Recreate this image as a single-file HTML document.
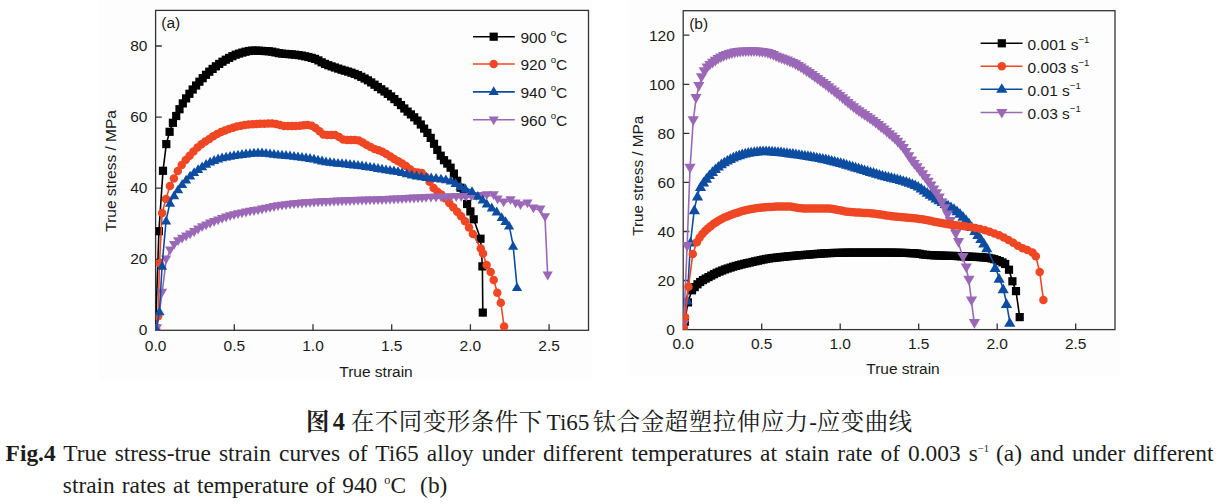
<!DOCTYPE html>
<html><head><meta charset="utf-8"><title>Fig.4</title>
<style>
html,body{margin:0;padding:0;background:#fff;}
body{width:1221px;height:504px;position:relative;overflow:hidden;}
.cap{position:absolute;white-space:nowrap;font-family:"Liberation Serif",serif;font-size:23.4px;line-height:1;color:#1c1c1c;}
.cap sup{font-size:0.45em;vertical-align:baseline;position:relative;top:-0.86em;margin:0 -1.2px 0 0;line-height:0;}
</style></head><body>
<svg width="1221" height="504" viewBox="0 0 1221 504" style="position:absolute;left:0;top:0">
<rect x="99" y="0" width="493" height="380" fill="#fdfdfd"/><rect x="628" y="0" width="492" height="376" fill="#fdfdfd"/>
<g font-family="'Liberation Sans', sans-serif" fill="#1a1a1a">
<rect x="155.6" y="10.4" width="432.9" height="319.9" fill="none" stroke="#333333" stroke-width="1.3"/>
<path d="M234.3 330.4v-6.2M313.0 330.4v-6.2M391.7 330.4v-6.2M470.4 330.4v-6.2M549.1 330.4v-6.2M155.6 259.3h6.2M155.6 188.2h6.2M155.6 117.1h6.2M155.6 46.0h6.2" stroke="#333333" stroke-width="1.3" fill="none"/>
<text x="155.6" y="351.1" font-size="15.5" text-anchor="middle">0.0</text>
<text x="234.3" y="351.1" font-size="15.5" text-anchor="middle">0.5</text>
<text x="313.0" y="351.1" font-size="15.5" text-anchor="middle">1.0</text>
<text x="391.7" y="351.1" font-size="15.5" text-anchor="middle">1.5</text>
<text x="470.4" y="351.1" font-size="15.5" text-anchor="middle">2.0</text>
<text x="549.1" y="351.1" font-size="15.5" text-anchor="middle">2.5</text>
<text x="147.4" y="335.2" font-size="15.5" text-anchor="end">0</text>
<text x="147.4" y="264.1" font-size="15.5" text-anchor="end">20</text>
<text x="147.4" y="193.0" font-size="15.5" text-anchor="end">40</text>
<text x="147.4" y="121.9" font-size="15.5" text-anchor="end">60</text>
<text x="147.4" y="50.8" font-size="15.5" text-anchor="end">80</text>
<text x="376" y="376.7" font-size="15.5" text-anchor="middle">True strain</text>
<text transform="translate(116.1 170.9) rotate(-90)" font-size="15.5" text-anchor="middle">True stress / MPa</text>
<text x="161.3" y="27.6" font-size="15.5">(a)</text>
<clipPath id="ca"><rect x="155.6" y="10.7" width="432.9" height="319.9"/></clipPath><g clip-path="url(#ca)">
<path d="M155.6 328.6L158.9 231.2L163.0 170.8L166.3 144.1L169.6 131.8L172.9 122.8L176.2 116.0L179.5 109.2L182.8 103.4L186.1 98.4L189.4 93.8L192.7 89.5L196.1 85.5L199.4 81.7L202.7 78.2L206.0 74.8L209.3 71.7L212.6 68.9L215.9 66.3L219.2 63.9L222.5 61.7L225.8 59.7L229.1 57.9L232.4 56.2L235.7 54.7L239.0 53.6L242.3 52.6L245.6 51.7L248.9 51.0L252.2 50.6L255.5 50.6L258.9 50.7L262.2 50.9L265.5 51.1L268.8 51.3L272.1 51.7L275.4 52.4L278.7 53.1L282.0 53.6L285.3 53.9L288.6 54.1L291.9 54.4L295.2 54.7L298.5 55.1L301.8 55.6L305.1 56.3L308.4 57.0L311.7 57.9L315.0 58.9L318.4 60.4L321.7 62.3L325.0 63.9L328.3 65.2L331.6 66.4L334.9 67.5L338.2 68.6L341.5 69.7L344.8 70.7L348.1 71.6L351.4 72.7L354.7 73.9L358.0 75.2L361.3 76.8L364.6 78.5L367.9 80.3L371.2 82.4L374.5 84.7L377.8 87.0L381.2 89.3L384.5 91.5L387.8 93.9L391.1 96.4L394.4 99.1L397.7 102.0L401.0 105.1L404.3 108.5L407.6 111.6L410.9 114.4L414.2 117.3L417.5 120.6L420.8 124.5L424.1 128.6L427.4 132.9L430.7 137.9L434.0 143.8L437.3 149.9L440.7 155.7L444.0 160.2L447.3 163.6L450.6 167.7L453.9 173.6L457.2 180.8L460.5 187.7L463.8 194.1L467.1 204.0L470.4 211.4L473.7 219.3L480.5 238.7L482.4 266.4L482.8 312.6" fill="none" stroke="#000000" stroke-width="1.6" stroke-linejoin="round"/>
<rect x="151.5" y="324.5" width="8.2" height="8.2" fill="#000000"/>
<rect x="154.8" y="227.1" width="8.2" height="8.2" fill="#000000"/>
<rect x="158.9" y="166.7" width="8.2" height="8.2" fill="#000000"/>
<rect x="162.2" y="140.0" width="8.2" height="8.2" fill="#000000"/>
<rect x="165.5" y="127.7" width="8.2" height="8.2" fill="#000000"/>
<rect x="168.8" y="118.7" width="8.2" height="8.2" fill="#000000"/>
<rect x="172.1" y="111.9" width="8.2" height="8.2" fill="#000000"/>
<rect x="175.4" y="105.1" width="8.2" height="8.2" fill="#000000"/>
<rect x="178.7" y="99.3" width="8.2" height="8.2" fill="#000000"/>
<rect x="182.0" y="94.3" width="8.2" height="8.2" fill="#000000"/>
<rect x="185.3" y="89.7" width="8.2" height="8.2" fill="#000000"/>
<rect x="188.6" y="85.4" width="8.2" height="8.2" fill="#000000"/>
<rect x="192.0" y="81.4" width="8.2" height="8.2" fill="#000000"/>
<rect x="195.3" y="77.6" width="8.2" height="8.2" fill="#000000"/>
<rect x="198.6" y="74.1" width="8.2" height="8.2" fill="#000000"/>
<rect x="201.9" y="70.7" width="8.2" height="8.2" fill="#000000"/>
<rect x="205.2" y="67.6" width="8.2" height="8.2" fill="#000000"/>
<rect x="208.5" y="64.8" width="8.2" height="8.2" fill="#000000"/>
<rect x="211.8" y="62.2" width="8.2" height="8.2" fill="#000000"/>
<rect x="215.1" y="59.8" width="8.2" height="8.2" fill="#000000"/>
<rect x="218.4" y="57.6" width="8.2" height="8.2" fill="#000000"/>
<rect x="221.7" y="55.6" width="8.2" height="8.2" fill="#000000"/>
<rect x="225.0" y="53.8" width="8.2" height="8.2" fill="#000000"/>
<rect x="228.3" y="52.1" width="8.2" height="8.2" fill="#000000"/>
<rect x="231.6" y="50.6" width="8.2" height="8.2" fill="#000000"/>
<rect x="234.9" y="49.5" width="8.2" height="8.2" fill="#000000"/>
<rect x="238.2" y="48.5" width="8.2" height="8.2" fill="#000000"/>
<rect x="241.5" y="47.6" width="8.2" height="8.2" fill="#000000"/>
<rect x="244.8" y="46.9" width="8.2" height="8.2" fill="#000000"/>
<rect x="248.1" y="46.5" width="8.2" height="8.2" fill="#000000"/>
<rect x="251.4" y="46.5" width="8.2" height="8.2" fill="#000000"/>
<rect x="254.8" y="46.6" width="8.2" height="8.2" fill="#000000"/>
<rect x="258.1" y="46.8" width="8.2" height="8.2" fill="#000000"/>
<rect x="261.4" y="47.0" width="8.2" height="8.2" fill="#000000"/>
<rect x="264.7" y="47.2" width="8.2" height="8.2" fill="#000000"/>
<rect x="268.0" y="47.6" width="8.2" height="8.2" fill="#000000"/>
<rect x="271.3" y="48.3" width="8.2" height="8.2" fill="#000000"/>
<rect x="274.6" y="49.0" width="8.2" height="8.2" fill="#000000"/>
<rect x="277.9" y="49.5" width="8.2" height="8.2" fill="#000000"/>
<rect x="281.2" y="49.8" width="8.2" height="8.2" fill="#000000"/>
<rect x="284.5" y="50.0" width="8.2" height="8.2" fill="#000000"/>
<rect x="287.8" y="50.3" width="8.2" height="8.2" fill="#000000"/>
<rect x="291.1" y="50.6" width="8.2" height="8.2" fill="#000000"/>
<rect x="294.4" y="51.0" width="8.2" height="8.2" fill="#000000"/>
<rect x="297.7" y="51.5" width="8.2" height="8.2" fill="#000000"/>
<rect x="301.0" y="52.2" width="8.2" height="8.2" fill="#000000"/>
<rect x="304.3" y="52.9" width="8.2" height="8.2" fill="#000000"/>
<rect x="307.6" y="53.8" width="8.2" height="8.2" fill="#000000"/>
<rect x="310.9" y="54.8" width="8.2" height="8.2" fill="#000000"/>
<rect x="314.3" y="56.3" width="8.2" height="8.2" fill="#000000"/>
<rect x="317.6" y="58.2" width="8.2" height="8.2" fill="#000000"/>
<rect x="320.9" y="59.8" width="8.2" height="8.2" fill="#000000"/>
<rect x="324.2" y="61.1" width="8.2" height="8.2" fill="#000000"/>
<rect x="327.5" y="62.3" width="8.2" height="8.2" fill="#000000"/>
<rect x="330.8" y="63.4" width="8.2" height="8.2" fill="#000000"/>
<rect x="334.1" y="64.5" width="8.2" height="8.2" fill="#000000"/>
<rect x="337.4" y="65.6" width="8.2" height="8.2" fill="#000000"/>
<rect x="340.7" y="66.6" width="8.2" height="8.2" fill="#000000"/>
<rect x="344.0" y="67.5" width="8.2" height="8.2" fill="#000000"/>
<rect x="347.3" y="68.6" width="8.2" height="8.2" fill="#000000"/>
<rect x="350.6" y="69.8" width="8.2" height="8.2" fill="#000000"/>
<rect x="353.9" y="71.1" width="8.2" height="8.2" fill="#000000"/>
<rect x="357.2" y="72.7" width="8.2" height="8.2" fill="#000000"/>
<rect x="360.5" y="74.4" width="8.2" height="8.2" fill="#000000"/>
<rect x="363.8" y="76.2" width="8.2" height="8.2" fill="#000000"/>
<rect x="367.1" y="78.3" width="8.2" height="8.2" fill="#000000"/>
<rect x="370.4" y="80.6" width="8.2" height="8.2" fill="#000000"/>
<rect x="373.7" y="82.9" width="8.2" height="8.2" fill="#000000"/>
<rect x="377.1" y="85.2" width="8.2" height="8.2" fill="#000000"/>
<rect x="380.4" y="87.4" width="8.2" height="8.2" fill="#000000"/>
<rect x="383.7" y="89.8" width="8.2" height="8.2" fill="#000000"/>
<rect x="387.0" y="92.3" width="8.2" height="8.2" fill="#000000"/>
<rect x="390.3" y="95.0" width="8.2" height="8.2" fill="#000000"/>
<rect x="393.6" y="97.9" width="8.2" height="8.2" fill="#000000"/>
<rect x="396.9" y="101.0" width="8.2" height="8.2" fill="#000000"/>
<rect x="400.2" y="104.4" width="8.2" height="8.2" fill="#000000"/>
<rect x="403.5" y="107.5" width="8.2" height="8.2" fill="#000000"/>
<rect x="406.8" y="110.3" width="8.2" height="8.2" fill="#000000"/>
<rect x="410.1" y="113.2" width="8.2" height="8.2" fill="#000000"/>
<rect x="413.4" y="116.5" width="8.2" height="8.2" fill="#000000"/>
<rect x="416.7" y="120.4" width="8.2" height="8.2" fill="#000000"/>
<rect x="420.0" y="124.5" width="8.2" height="8.2" fill="#000000"/>
<rect x="423.3" y="128.8" width="8.2" height="8.2" fill="#000000"/>
<rect x="426.6" y="133.8" width="8.2" height="8.2" fill="#000000"/>
<rect x="429.9" y="139.7" width="8.2" height="8.2" fill="#000000"/>
<rect x="433.2" y="145.8" width="8.2" height="8.2" fill="#000000"/>
<rect x="436.6" y="151.6" width="8.2" height="8.2" fill="#000000"/>
<rect x="439.9" y="156.1" width="8.2" height="8.2" fill="#000000"/>
<rect x="443.2" y="159.5" width="8.2" height="8.2" fill="#000000"/>
<rect x="446.5" y="163.6" width="8.2" height="8.2" fill="#000000"/>
<rect x="449.8" y="169.5" width="8.2" height="8.2" fill="#000000"/>
<rect x="453.1" y="176.7" width="8.2" height="8.2" fill="#000000"/>
<rect x="456.4" y="183.6" width="8.2" height="8.2" fill="#000000"/>
<rect x="459.7" y="190.0" width="8.2" height="8.2" fill="#000000"/>
<rect x="463.0" y="199.9" width="8.2" height="8.2" fill="#000000"/>
<rect x="466.3" y="207.3" width="8.2" height="8.2" fill="#000000"/>
<rect x="469.6" y="215.2" width="8.2" height="8.2" fill="#000000"/>
<rect x="476.4" y="234.6" width="8.2" height="8.2" fill="#000000"/>
<rect x="478.3" y="262.3" width="8.2" height="8.2" fill="#000000"/>
<rect x="478.7" y="308.5" width="8.2" height="8.2" fill="#000000"/>
<path d="M156.1 328.6L158.1 316.2L159.5 263.2L162.1 213.1L166.0 198.9L169.9 186.0L173.9 178.6L177.8 171.0L181.7 164.9L185.7 160.0L189.6 155.7L193.5 151.4L197.5 147.5L201.4 144.2L205.3 141.4L209.3 138.9L213.2 136.3L217.1 133.9L221.1 132.0L225.0 130.4L228.9 129.0L232.9 127.7L236.8 126.5L240.8 125.7L244.7 125.1L248.6 124.6L252.6 124.2L256.5 124.0L260.4 123.8L264.4 123.7L268.3 123.6L272.2 123.5L276.2 123.9L280.1 125.1L284.0 125.9L288.0 126.0L291.9 126.0L295.8 126.0L299.8 125.8L303.7 125.3L307.6 124.9L311.6 125.7L315.5 128.1L319.5 131.3L323.4 134.6L327.3 134.9L331.3 134.9L335.2 134.9L339.1 137.1L343.1 139.6L347.0 139.9L350.9 139.9L354.9 139.9L358.8 140.4L362.7 142.6L366.7 145.0L370.6 147.0L374.5 148.9L378.5 150.2L382.4 151.7L386.3 153.9L390.3 156.4L394.2 158.9L398.2 161.2L402.1 163.6L406.0 166.1L410.0 169.3L413.9 172.0L417.8 172.6L421.8 173.0L425.7 176.7L429.6 181.8L433.6 188.1L437.5 191.7L441.4 194.5L445.4 198.6L449.3 202.9L453.2 207.3L457.2 211.8L461.1 216.2L465.0 221.3L469.0 227.4L472.9 234.0L480.8 248.6L483.0 253.6L486.6 265.0L490.7 272.1L493.7 279.9L497.3 292.7L500.8 302.7L504.1 326.5" fill="none" stroke="#ef4623" stroke-width="1.6" stroke-linejoin="round"/>
<circle cx="156.1" cy="328.6" r="4.25" fill="#ef4623"/>
<circle cx="158.1" cy="316.2" r="4.25" fill="#ef4623"/>
<circle cx="159.5" cy="263.2" r="4.25" fill="#ef4623"/>
<circle cx="162.1" cy="213.1" r="4.25" fill="#ef4623"/>
<circle cx="166.0" cy="198.9" r="4.25" fill="#ef4623"/>
<circle cx="169.9" cy="186.0" r="4.25" fill="#ef4623"/>
<circle cx="173.9" cy="178.6" r="4.25" fill="#ef4623"/>
<circle cx="177.8" cy="171.0" r="4.25" fill="#ef4623"/>
<circle cx="181.7" cy="164.9" r="4.25" fill="#ef4623"/>
<circle cx="185.7" cy="160.0" r="4.25" fill="#ef4623"/>
<circle cx="189.6" cy="155.7" r="4.25" fill="#ef4623"/>
<circle cx="193.5" cy="151.4" r="4.25" fill="#ef4623"/>
<circle cx="197.5" cy="147.5" r="4.25" fill="#ef4623"/>
<circle cx="201.4" cy="144.2" r="4.25" fill="#ef4623"/>
<circle cx="205.3" cy="141.4" r="4.25" fill="#ef4623"/>
<circle cx="209.3" cy="138.9" r="4.25" fill="#ef4623"/>
<circle cx="213.2" cy="136.3" r="4.25" fill="#ef4623"/>
<circle cx="217.1" cy="133.9" r="4.25" fill="#ef4623"/>
<circle cx="221.1" cy="132.0" r="4.25" fill="#ef4623"/>
<circle cx="225.0" cy="130.4" r="4.25" fill="#ef4623"/>
<circle cx="228.9" cy="129.0" r="4.25" fill="#ef4623"/>
<circle cx="232.9" cy="127.7" r="4.25" fill="#ef4623"/>
<circle cx="236.8" cy="126.5" r="4.25" fill="#ef4623"/>
<circle cx="240.8" cy="125.7" r="4.25" fill="#ef4623"/>
<circle cx="244.7" cy="125.1" r="4.25" fill="#ef4623"/>
<circle cx="248.6" cy="124.6" r="4.25" fill="#ef4623"/>
<circle cx="252.6" cy="124.2" r="4.25" fill="#ef4623"/>
<circle cx="256.5" cy="124.0" r="4.25" fill="#ef4623"/>
<circle cx="260.4" cy="123.8" r="4.25" fill="#ef4623"/>
<circle cx="264.4" cy="123.7" r="4.25" fill="#ef4623"/>
<circle cx="268.3" cy="123.6" r="4.25" fill="#ef4623"/>
<circle cx="272.2" cy="123.5" r="4.25" fill="#ef4623"/>
<circle cx="276.2" cy="123.9" r="4.25" fill="#ef4623"/>
<circle cx="280.1" cy="125.1" r="4.25" fill="#ef4623"/>
<circle cx="284.0" cy="125.9" r="4.25" fill="#ef4623"/>
<circle cx="288.0" cy="126.0" r="4.25" fill="#ef4623"/>
<circle cx="291.9" cy="126.0" r="4.25" fill="#ef4623"/>
<circle cx="295.8" cy="126.0" r="4.25" fill="#ef4623"/>
<circle cx="299.8" cy="125.8" r="4.25" fill="#ef4623"/>
<circle cx="303.7" cy="125.3" r="4.25" fill="#ef4623"/>
<circle cx="307.6" cy="124.9" r="4.25" fill="#ef4623"/>
<circle cx="311.6" cy="125.7" r="4.25" fill="#ef4623"/>
<circle cx="315.5" cy="128.1" r="4.25" fill="#ef4623"/>
<circle cx="319.5" cy="131.3" r="4.25" fill="#ef4623"/>
<circle cx="323.4" cy="134.6" r="4.25" fill="#ef4623"/>
<circle cx="327.3" cy="134.9" r="4.25" fill="#ef4623"/>
<circle cx="331.3" cy="134.9" r="4.25" fill="#ef4623"/>
<circle cx="335.2" cy="134.9" r="4.25" fill="#ef4623"/>
<circle cx="339.1" cy="137.1" r="4.25" fill="#ef4623"/>
<circle cx="343.1" cy="139.6" r="4.25" fill="#ef4623"/>
<circle cx="347.0" cy="139.9" r="4.25" fill="#ef4623"/>
<circle cx="350.9" cy="139.9" r="4.25" fill="#ef4623"/>
<circle cx="354.9" cy="139.9" r="4.25" fill="#ef4623"/>
<circle cx="358.8" cy="140.4" r="4.25" fill="#ef4623"/>
<circle cx="362.7" cy="142.6" r="4.25" fill="#ef4623"/>
<circle cx="366.7" cy="145.0" r="4.25" fill="#ef4623"/>
<circle cx="370.6" cy="147.0" r="4.25" fill="#ef4623"/>
<circle cx="374.5" cy="148.9" r="4.25" fill="#ef4623"/>
<circle cx="378.5" cy="150.2" r="4.25" fill="#ef4623"/>
<circle cx="382.4" cy="151.7" r="4.25" fill="#ef4623"/>
<circle cx="386.3" cy="153.9" r="4.25" fill="#ef4623"/>
<circle cx="390.3" cy="156.4" r="4.25" fill="#ef4623"/>
<circle cx="394.2" cy="158.9" r="4.25" fill="#ef4623"/>
<circle cx="398.2" cy="161.2" r="4.25" fill="#ef4623"/>
<circle cx="402.1" cy="163.6" r="4.25" fill="#ef4623"/>
<circle cx="406.0" cy="166.1" r="4.25" fill="#ef4623"/>
<circle cx="410.0" cy="169.3" r="4.25" fill="#ef4623"/>
<circle cx="413.9" cy="172.0" r="4.25" fill="#ef4623"/>
<circle cx="417.8" cy="172.6" r="4.25" fill="#ef4623"/>
<circle cx="421.8" cy="173.0" r="4.25" fill="#ef4623"/>
<circle cx="425.7" cy="176.7" r="4.25" fill="#ef4623"/>
<circle cx="429.6" cy="181.8" r="4.25" fill="#ef4623"/>
<circle cx="433.6" cy="188.1" r="4.25" fill="#ef4623"/>
<circle cx="437.5" cy="191.7" r="4.25" fill="#ef4623"/>
<circle cx="441.4" cy="194.5" r="4.25" fill="#ef4623"/>
<circle cx="445.4" cy="198.6" r="4.25" fill="#ef4623"/>
<circle cx="449.3" cy="202.9" r="4.25" fill="#ef4623"/>
<circle cx="453.2" cy="207.3" r="4.25" fill="#ef4623"/>
<circle cx="457.2" cy="211.8" r="4.25" fill="#ef4623"/>
<circle cx="461.1" cy="216.2" r="4.25" fill="#ef4623"/>
<circle cx="465.0" cy="221.3" r="4.25" fill="#ef4623"/>
<circle cx="469.0" cy="227.4" r="4.25" fill="#ef4623"/>
<circle cx="472.9" cy="234.0" r="4.25" fill="#ef4623"/>
<circle cx="480.8" cy="248.6" r="4.25" fill="#ef4623"/>
<circle cx="483.0" cy="253.6" r="4.25" fill="#ef4623"/>
<circle cx="486.6" cy="265.0" r="4.25" fill="#ef4623"/>
<circle cx="490.7" cy="272.1" r="4.25" fill="#ef4623"/>
<circle cx="493.7" cy="279.9" r="4.25" fill="#ef4623"/>
<circle cx="497.3" cy="292.7" r="4.25" fill="#ef4623"/>
<circle cx="500.8" cy="302.7" r="4.25" fill="#ef4623"/>
<circle cx="504.1" cy="326.5" r="4.25" fill="#ef4623"/>
<path d="M156.9 328.6L162.1 293.1L166.1 260.0L170.1 250.8L174.1 245.4L178.1 241.6L182.1 239.1L186.1 237.0L190.1 234.9L194.1 232.5L198.1 230.0L202.1 227.7L206.1 225.8L210.1 224.0L214.1 222.4L218.1 220.9L222.1 219.4L226.1 218.0L230.1 216.7L234.0 215.7L238.0 214.7L242.0 213.8L246.0 213.0L250.0 212.2L254.0 211.5L258.0 210.8L262.0 210.0L266.0 209.2L270.0 208.4L274.0 207.5L278.0 206.7L282.0 206.1L286.0 205.6L290.0 205.1L294.0 204.7L298.0 204.3L302.0 204.0L306.0 203.6L310.0 203.3L314.0 203.1L318.0 202.8L322.0 202.6L326.0 202.5L330.0 202.3L334.0 202.1L338.0 202.0L342.0 201.8L346.0 201.7L350.0 201.5L354.0 201.4L358.0 201.2L362.0 201.1L366.0 201.0L370.0 200.9L374.0 200.8L378.0 200.6L382.0 200.5L386.0 200.4L390.0 200.2L394.0 200.0L398.0 199.9L402.0 199.7L406.0 199.4L410.0 199.2L414.0 199.0L418.0 198.8L422.0 198.6L426.0 198.4L431.0 198.2L436.0 198.1L441.1 197.9L446.1 197.8L451.1 197.7L456.2 197.5L461.2 197.4L466.2 197.2L471.3 197.0L476.3 196.7L481.4 196.4L486.8 195.7L493.7 195.7L497.6 199.9L503.6 202.8L510.5 200.6L515.6 203.8L520.5 205.6L527.5 203.8L533.4 208.8L540.4 209.9L545.0 217.7L547.7 276.0" fill="none" stroke="#9b68b7" stroke-width="1.6" stroke-linejoin="round"/>
<path d="M156.9 333.0L162.0 324.2H151.8Z" fill="#9b68b7"/>
<path d="M162.1 297.5L167.2 288.7H157.0Z" fill="#9b68b7"/>
<path d="M166.1 264.4L171.2 255.6H161.0Z" fill="#9b68b7"/>
<path d="M170.1 255.2L175.2 246.4H165.0Z" fill="#9b68b7"/>
<path d="M174.1 249.8L179.2 241.0H169.0Z" fill="#9b68b7"/>
<path d="M178.1 246.0L183.2 237.2H173.0Z" fill="#9b68b7"/>
<path d="M182.1 243.5L187.2 234.7H177.0Z" fill="#9b68b7"/>
<path d="M186.1 241.4L191.2 232.6H181.0Z" fill="#9b68b7"/>
<path d="M190.1 239.3L195.2 230.5H185.0Z" fill="#9b68b7"/>
<path d="M194.1 236.9L199.2 228.1H189.0Z" fill="#9b68b7"/>
<path d="M198.1 234.4L203.2 225.6H193.0Z" fill="#9b68b7"/>
<path d="M202.1 232.1L207.2 223.3H197.0Z" fill="#9b68b7"/>
<path d="M206.1 230.2L211.2 221.4H201.0Z" fill="#9b68b7"/>
<path d="M210.1 228.4L215.2 219.6H205.0Z" fill="#9b68b7"/>
<path d="M214.1 226.8L219.2 218.0H209.0Z" fill="#9b68b7"/>
<path d="M218.1 225.3L223.2 216.5H213.0Z" fill="#9b68b7"/>
<path d="M222.1 223.8L227.2 215.0H217.0Z" fill="#9b68b7"/>
<path d="M226.1 222.4L231.2 213.6H221.0Z" fill="#9b68b7"/>
<path d="M230.1 221.1L235.2 212.3H225.0Z" fill="#9b68b7"/>
<path d="M234.0 220.1L239.1 211.3H228.9Z" fill="#9b68b7"/>
<path d="M238.0 219.1L243.1 210.3H232.9Z" fill="#9b68b7"/>
<path d="M242.0 218.2L247.1 209.4H236.9Z" fill="#9b68b7"/>
<path d="M246.0 217.4L251.1 208.6H240.9Z" fill="#9b68b7"/>
<path d="M250.0 216.6L255.1 207.8H244.9Z" fill="#9b68b7"/>
<path d="M254.0 215.9L259.1 207.1H248.9Z" fill="#9b68b7"/>
<path d="M258.0 215.2L263.1 206.4H252.9Z" fill="#9b68b7"/>
<path d="M262.0 214.4L267.1 205.6H256.9Z" fill="#9b68b7"/>
<path d="M266.0 213.6L271.1 204.8H260.9Z" fill="#9b68b7"/>
<path d="M270.0 212.8L275.1 204.0H264.9Z" fill="#9b68b7"/>
<path d="M274.0 211.9L279.1 203.1H268.9Z" fill="#9b68b7"/>
<path d="M278.0 211.1L283.1 202.3H272.9Z" fill="#9b68b7"/>
<path d="M282.0 210.5L287.1 201.7H276.9Z" fill="#9b68b7"/>
<path d="M286.0 210.0L291.1 201.2H280.9Z" fill="#9b68b7"/>
<path d="M290.0 209.5L295.1 200.7H284.9Z" fill="#9b68b7"/>
<path d="M294.0 209.1L299.1 200.3H288.9Z" fill="#9b68b7"/>
<path d="M298.0 208.7L303.1 199.9H292.9Z" fill="#9b68b7"/>
<path d="M302.0 208.4L307.1 199.6H296.9Z" fill="#9b68b7"/>
<path d="M306.0 208.0L311.1 199.2H300.9Z" fill="#9b68b7"/>
<path d="M310.0 207.7L315.1 198.9H304.9Z" fill="#9b68b7"/>
<path d="M314.0 207.5L319.1 198.7H308.9Z" fill="#9b68b7"/>
<path d="M318.0 207.2L323.1 198.4H312.9Z" fill="#9b68b7"/>
<path d="M322.0 207.0L327.1 198.2H316.9Z" fill="#9b68b7"/>
<path d="M326.0 206.9L331.1 198.1H320.9Z" fill="#9b68b7"/>
<path d="M330.0 206.7L335.1 197.9H324.9Z" fill="#9b68b7"/>
<path d="M334.0 206.5L339.1 197.7H328.9Z" fill="#9b68b7"/>
<path d="M338.0 206.4L343.1 197.6H332.9Z" fill="#9b68b7"/>
<path d="M342.0 206.2L347.1 197.4H336.9Z" fill="#9b68b7"/>
<path d="M346.0 206.1L351.1 197.3H340.9Z" fill="#9b68b7"/>
<path d="M350.0 205.9L355.1 197.1H344.9Z" fill="#9b68b7"/>
<path d="M354.0 205.8L359.1 197.0H348.9Z" fill="#9b68b7"/>
<path d="M358.0 205.6L363.1 196.8H352.9Z" fill="#9b68b7"/>
<path d="M362.0 205.5L367.1 196.7H356.9Z" fill="#9b68b7"/>
<path d="M366.0 205.4L371.1 196.6H360.9Z" fill="#9b68b7"/>
<path d="M370.0 205.3L375.1 196.5H364.9Z" fill="#9b68b7"/>
<path d="M374.0 205.2L379.1 196.4H368.9Z" fill="#9b68b7"/>
<path d="M378.0 205.0L383.1 196.2H372.9Z" fill="#9b68b7"/>
<path d="M382.0 204.9L387.1 196.1H376.9Z" fill="#9b68b7"/>
<path d="M386.0 204.8L391.1 196.0H380.9Z" fill="#9b68b7"/>
<path d="M390.0 204.6L395.1 195.8H384.9Z" fill="#9b68b7"/>
<path d="M394.0 204.4L399.1 195.6H388.9Z" fill="#9b68b7"/>
<path d="M398.0 204.3L403.1 195.5H392.9Z" fill="#9b68b7"/>
<path d="M402.0 204.1L407.1 195.3H396.9Z" fill="#9b68b7"/>
<path d="M406.0 203.8L411.1 195.0H400.9Z" fill="#9b68b7"/>
<path d="M410.0 203.6L415.1 194.8H404.9Z" fill="#9b68b7"/>
<path d="M414.0 203.4L419.1 194.6H408.9Z" fill="#9b68b7"/>
<path d="M418.0 203.2L423.1 194.4H412.9Z" fill="#9b68b7"/>
<path d="M422.0 203.0L427.1 194.2H416.9Z" fill="#9b68b7"/>
<path d="M426.0 202.8L431.1 194.0H420.9Z" fill="#9b68b7"/>
<path d="M431.0 202.6L436.1 193.8H425.9Z" fill="#9b68b7"/>
<path d="M436.0 202.5L441.1 193.7H430.9Z" fill="#9b68b7"/>
<path d="M441.1 202.3L446.2 193.5H436.0Z" fill="#9b68b7"/>
<path d="M446.1 202.2L451.2 193.4H441.0Z" fill="#9b68b7"/>
<path d="M451.1 202.1L456.2 193.3H446.0Z" fill="#9b68b7"/>
<path d="M456.2 201.9L461.3 193.1H451.1Z" fill="#9b68b7"/>
<path d="M461.2 201.8L466.3 193.0H456.1Z" fill="#9b68b7"/>
<path d="M466.2 201.6L471.3 192.8H461.1Z" fill="#9b68b7"/>
<path d="M471.3 201.4L476.4 192.6H466.2Z" fill="#9b68b7"/>
<path d="M476.3 201.1L481.4 192.3H471.2Z" fill="#9b68b7"/>
<path d="M481.4 200.8L486.5 192.0H476.3Z" fill="#9b68b7"/>
<path d="M486.8 200.1L491.9 191.3H481.7Z" fill="#9b68b7"/>
<path d="M493.7 200.1L498.8 191.3H488.6Z" fill="#9b68b7"/>
<path d="M497.6 204.3L502.7 195.5H492.5Z" fill="#9b68b7"/>
<path d="M503.6 207.2L508.7 198.4H498.5Z" fill="#9b68b7"/>
<path d="M510.5 205.0L515.6 196.2H505.4Z" fill="#9b68b7"/>
<path d="M515.6 208.2L520.7 199.4H510.5Z" fill="#9b68b7"/>
<path d="M520.5 210.0L525.6 201.2H515.4Z" fill="#9b68b7"/>
<path d="M527.5 208.2L532.6 199.4H522.4Z" fill="#9b68b7"/>
<path d="M533.4 213.2L538.5 204.4H528.3Z" fill="#9b68b7"/>
<path d="M540.4 214.3L545.5 205.5H535.3Z" fill="#9b68b7"/>
<path d="M545.0 222.1L550.1 213.3H539.9Z" fill="#9b68b7"/>
<path d="M547.7 280.4L552.8 271.6H542.6Z" fill="#9b68b7"/>
<path d="M156.4 328.6L159.5 310.8L162.1 265.3L166.1 220.2L170.1 202.4L174.1 194.9L178.1 188.8L182.1 183.6L186.1 179.1L190.1 175.1L194.1 171.7L198.1 168.7L202.1 165.9L206.1 163.4L210.1 161.2L214.1 159.5L218.1 158.0L222.1 156.9L226.1 156.1L230.1 155.4L234.0 154.7L238.0 154.1L242.0 153.5L246.0 153.0L250.0 152.6L254.0 152.2L258.0 152.0L262.0 152.0L266.0 152.4L270.0 152.9L274.0 153.4L278.0 153.8L282.0 154.1L286.0 154.5L290.0 154.9L294.0 155.3L298.0 155.8L302.0 156.3L306.0 156.9L310.0 157.5L314.0 158.2L318.0 159.1L322.0 160.0L326.0 160.8L330.0 161.4L334.0 161.8L338.0 162.3L342.0 162.6L346.0 163.0L350.0 163.5L354.0 164.0L358.0 164.4L362.0 164.9L366.0 165.5L370.0 166.1L374.0 166.7L378.0 167.5L382.0 168.2L386.0 168.8L390.0 169.4L394.0 170.0L398.0 170.7L402.0 171.6L406.8 172.8L411.7 174.0L416.6 175.0L421.5 175.9L426.4 176.5L431.2 177.0L436.1 177.4L441.0 178.1L445.9 178.9L450.8 180.1L455.6 182.5L460.5 185.5L465.4 188.0L472.0 190.7L477.8 195.3L482.7 199.2L486.8 203.1L491.8 207.0L496.7 211.0L501.7 216.6L505.5 220.6L509.1 225.2L513.1 245.4L517.0 286.7" fill="none" stroke="#0d4da1" stroke-width="1.6" stroke-linejoin="round"/>
<path d="M156.4 324.2L161.5 333.0H151.3Z" fill="#0d4da1"/>
<path d="M159.5 306.4L164.6 315.2H154.4Z" fill="#0d4da1"/>
<path d="M162.1 260.9L167.2 269.7H157.0Z" fill="#0d4da1"/>
<path d="M166.1 215.8L171.2 224.6H161.0Z" fill="#0d4da1"/>
<path d="M170.1 198.0L175.2 206.8H165.0Z" fill="#0d4da1"/>
<path d="M174.1 190.5L179.2 199.3H169.0Z" fill="#0d4da1"/>
<path d="M178.1 184.4L183.2 193.2H173.0Z" fill="#0d4da1"/>
<path d="M182.1 179.2L187.2 188.0H177.0Z" fill="#0d4da1"/>
<path d="M186.1 174.7L191.2 183.5H181.0Z" fill="#0d4da1"/>
<path d="M190.1 170.7L195.2 179.5H185.0Z" fill="#0d4da1"/>
<path d="M194.1 167.3L199.2 176.1H189.0Z" fill="#0d4da1"/>
<path d="M198.1 164.3L203.2 173.1H193.0Z" fill="#0d4da1"/>
<path d="M202.1 161.5L207.2 170.3H197.0Z" fill="#0d4da1"/>
<path d="M206.1 159.0L211.2 167.8H201.0Z" fill="#0d4da1"/>
<path d="M210.1 156.8L215.2 165.6H205.0Z" fill="#0d4da1"/>
<path d="M214.1 155.1L219.2 163.9H209.0Z" fill="#0d4da1"/>
<path d="M218.1 153.6L223.2 162.4H213.0Z" fill="#0d4da1"/>
<path d="M222.1 152.5L227.2 161.3H217.0Z" fill="#0d4da1"/>
<path d="M226.1 151.7L231.2 160.5H221.0Z" fill="#0d4da1"/>
<path d="M230.1 151.0L235.2 159.8H225.0Z" fill="#0d4da1"/>
<path d="M234.0 150.3L239.1 159.1H228.9Z" fill="#0d4da1"/>
<path d="M238.0 149.7L243.1 158.5H232.9Z" fill="#0d4da1"/>
<path d="M242.0 149.1L247.1 157.9H236.9Z" fill="#0d4da1"/>
<path d="M246.0 148.6L251.1 157.4H240.9Z" fill="#0d4da1"/>
<path d="M250.0 148.2L255.1 157.0H244.9Z" fill="#0d4da1"/>
<path d="M254.0 147.8L259.1 156.6H248.9Z" fill="#0d4da1"/>
<path d="M258.0 147.6L263.1 156.4H252.9Z" fill="#0d4da1"/>
<path d="M262.0 147.6L267.1 156.4H256.9Z" fill="#0d4da1"/>
<path d="M266.0 148.0L271.1 156.8H260.9Z" fill="#0d4da1"/>
<path d="M270.0 148.5L275.1 157.3H264.9Z" fill="#0d4da1"/>
<path d="M274.0 149.0L279.1 157.8H268.9Z" fill="#0d4da1"/>
<path d="M278.0 149.4L283.1 158.2H272.9Z" fill="#0d4da1"/>
<path d="M282.0 149.7L287.1 158.5H276.9Z" fill="#0d4da1"/>
<path d="M286.0 150.1L291.1 158.9H280.9Z" fill="#0d4da1"/>
<path d="M290.0 150.5L295.1 159.3H284.9Z" fill="#0d4da1"/>
<path d="M294.0 150.9L299.1 159.7H288.9Z" fill="#0d4da1"/>
<path d="M298.0 151.4L303.1 160.2H292.9Z" fill="#0d4da1"/>
<path d="M302.0 151.9L307.1 160.7H296.9Z" fill="#0d4da1"/>
<path d="M306.0 152.5L311.1 161.3H300.9Z" fill="#0d4da1"/>
<path d="M310.0 153.1L315.1 161.9H304.9Z" fill="#0d4da1"/>
<path d="M314.0 153.8L319.1 162.6H308.9Z" fill="#0d4da1"/>
<path d="M318.0 154.7L323.1 163.5H312.9Z" fill="#0d4da1"/>
<path d="M322.0 155.6L327.1 164.4H316.9Z" fill="#0d4da1"/>
<path d="M326.0 156.4L331.1 165.2H320.9Z" fill="#0d4da1"/>
<path d="M330.0 157.0L335.1 165.8H324.9Z" fill="#0d4da1"/>
<path d="M334.0 157.4L339.1 166.2H328.9Z" fill="#0d4da1"/>
<path d="M338.0 157.9L343.1 166.7H332.9Z" fill="#0d4da1"/>
<path d="M342.0 158.2L347.1 167.0H336.9Z" fill="#0d4da1"/>
<path d="M346.0 158.6L351.1 167.4H340.9Z" fill="#0d4da1"/>
<path d="M350.0 159.1L355.1 167.9H344.9Z" fill="#0d4da1"/>
<path d="M354.0 159.6L359.1 168.4H348.9Z" fill="#0d4da1"/>
<path d="M358.0 160.0L363.1 168.8H352.9Z" fill="#0d4da1"/>
<path d="M362.0 160.5L367.1 169.3H356.9Z" fill="#0d4da1"/>
<path d="M366.0 161.1L371.1 169.9H360.9Z" fill="#0d4da1"/>
<path d="M370.0 161.7L375.1 170.5H364.9Z" fill="#0d4da1"/>
<path d="M374.0 162.3L379.1 171.1H368.9Z" fill="#0d4da1"/>
<path d="M378.0 163.1L383.1 171.9H372.9Z" fill="#0d4da1"/>
<path d="M382.0 163.8L387.1 172.6H376.9Z" fill="#0d4da1"/>
<path d="M386.0 164.4L391.1 173.2H380.9Z" fill="#0d4da1"/>
<path d="M390.0 165.0L395.1 173.8H384.9Z" fill="#0d4da1"/>
<path d="M394.0 165.6L399.1 174.4H388.9Z" fill="#0d4da1"/>
<path d="M398.0 166.3L403.1 175.1H392.9Z" fill="#0d4da1"/>
<path d="M402.0 167.2L407.1 176.0H396.9Z" fill="#0d4da1"/>
<path d="M406.8 168.4L411.9 177.2H401.7Z" fill="#0d4da1"/>
<path d="M411.7 169.6L416.8 178.4H406.6Z" fill="#0d4da1"/>
<path d="M416.6 170.6L421.7 179.4H411.5Z" fill="#0d4da1"/>
<path d="M421.5 171.5L426.6 180.3H416.4Z" fill="#0d4da1"/>
<path d="M426.4 172.1L431.5 180.9H421.3Z" fill="#0d4da1"/>
<path d="M431.2 172.6L436.3 181.4H426.1Z" fill="#0d4da1"/>
<path d="M436.1 173.0L441.2 181.8H431.0Z" fill="#0d4da1"/>
<path d="M441.0 173.7L446.1 182.5H435.9Z" fill="#0d4da1"/>
<path d="M445.9 174.5L451.0 183.3H440.8Z" fill="#0d4da1"/>
<path d="M450.8 175.7L455.9 184.5H445.7Z" fill="#0d4da1"/>
<path d="M455.6 178.1L460.7 186.9H450.5Z" fill="#0d4da1"/>
<path d="M460.5 181.1L465.6 189.9H455.4Z" fill="#0d4da1"/>
<path d="M465.4 183.6L470.5 192.4H460.3Z" fill="#0d4da1"/>
<path d="M472.0 186.3L477.1 195.1H466.9Z" fill="#0d4da1"/>
<path d="M477.8 190.9L482.9 199.7H472.7Z" fill="#0d4da1"/>
<path d="M482.7 194.8L487.8 203.6H477.6Z" fill="#0d4da1"/>
<path d="M486.8 198.7L491.9 207.5H481.7Z" fill="#0d4da1"/>
<path d="M491.8 202.6L496.9 211.4H486.7Z" fill="#0d4da1"/>
<path d="M496.7 206.6L501.8 215.4H491.6Z" fill="#0d4da1"/>
<path d="M501.7 212.2L506.8 221.0H496.6Z" fill="#0d4da1"/>
<path d="M505.5 216.2L510.6 225.0H500.4Z" fill="#0d4da1"/>
<path d="M509.1 220.8L514.2 229.6H504.0Z" fill="#0d4da1"/>
<path d="M513.1 241.0L518.2 249.8H508.0Z" fill="#0d4da1"/>
<path d="M517.0 282.3L522.1 291.1H511.9Z" fill="#0d4da1"/>
</g>
<path d="M473 36.7H514.8" stroke="#000000" stroke-width="1.6"/>
<rect x="489.6" y="32.6" width="8.2" height="8.2" fill="#000000"/>
<text x="520.5" y="42.7" font-size="15.5">900 <tspan font-size="9.6" dy="-6.8">o</tspan><tspan dy="6.8">C</tspan></text>
<path d="M473 64.0H514.8" stroke="#ef4623" stroke-width="1.6"/>
<circle cx="493.7" cy="64.0" r="4.25" fill="#ef4623"/>
<text x="520.5" y="70.0" font-size="15.5">920 <tspan font-size="9.6" dy="-6.8">o</tspan><tspan dy="6.8">C</tspan></text>
<path d="M473 91.9H514.8" stroke="#0d4da1" stroke-width="1.6"/>
<path d="M493.7 86.3L498.8 95.1H488.6Z" fill="#0d4da1"/>
<text x="520.5" y="97.9" font-size="15.5">940 <tspan font-size="9.6" dy="-6.8">o</tspan><tspan dy="6.8">C</tspan></text>
<path d="M473 119.7H514.8" stroke="#9b68b7" stroke-width="1.6"/>
<path d="M493.7 125.3L498.8 116.5H488.6Z" fill="#9b68b7"/>
<text x="520.5" y="125.7" font-size="15.5">960 <tspan font-size="9.6" dy="-6.8">o</tspan><tspan dy="6.8">C</tspan></text>
<rect x="683.2" y="10.7" width="431.8" height="318.9" fill="none" stroke="#333333" stroke-width="1.3"/>
<path d="M761.7 329.6v-6.2M840.2 329.6v-6.2M918.7 329.6v-6.2M997.2 329.6v-6.2M1075.7 329.6v-6.2M683.2 280.5h6.2M683.2 231.5h6.2M683.2 182.4h6.2M683.2 133.3h6.2M683.2 84.3h6.2M683.2 35.2h6.2" stroke="#333333" stroke-width="1.3" fill="none"/>
<text x="683.2" y="349.2" font-size="15.5" text-anchor="middle">0.0</text>
<text x="761.7" y="349.2" font-size="15.5" text-anchor="middle">0.5</text>
<text x="840.2" y="349.2" font-size="15.5" text-anchor="middle">1.0</text>
<text x="918.7" y="349.2" font-size="15.5" text-anchor="middle">1.5</text>
<text x="997.2" y="349.2" font-size="15.5" text-anchor="middle">2.0</text>
<text x="1075.7" y="349.2" font-size="15.5" text-anchor="middle">2.5</text>
<text x="674.8" y="335.0" font-size="15.5" text-anchor="end">0</text>
<text x="674.8" y="285.9" font-size="15.5" text-anchor="end">20</text>
<text x="674.8" y="236.9" font-size="15.5" text-anchor="end">40</text>
<text x="674.8" y="187.8" font-size="15.5" text-anchor="end">60</text>
<text x="674.8" y="138.7" font-size="15.5" text-anchor="end">80</text>
<text x="674.8" y="89.7" font-size="15.5" text-anchor="end">100</text>
<text x="674.8" y="40.6" font-size="15.5" text-anchor="end">120</text>
<text x="903" y="373.6" font-size="15.5" text-anchor="middle">True strain</text>
<text transform="translate(642.8 175.8) rotate(-90)" font-size="15.3" text-anchor="middle">True stress / MPa</text>
<text x="689.2" y="28.6" font-size="15.5">(b)</text>
<clipPath id="cb"><rect x="683.2" y="10.5" width="431.8" height="319.3"/></clipPath><g clip-path="url(#cb)">
<path d="M683.2 328.4L684.8 321.7L687.9 302.4L692.0 290.3L694.7 287.1L697.5 284.3L700.2 282.0L703.0 280.1L705.7 278.6L708.5 277.1L711.2 275.6L714.0 274.2L716.7 272.8L719.5 271.6L722.2 270.5L725.0 269.4L727.7 268.5L730.5 267.6L733.2 266.7L736.0 265.9L738.7 265.2L741.4 264.5L744.2 263.8L746.9 263.2L749.7 262.6L752.4 261.9L755.2 261.3L757.9 260.7L760.7 260.1L763.4 259.5L766.2 259.0L768.9 258.5L771.7 258.1L774.4 257.8L777.2 257.5L779.9 257.2L782.7 256.9L785.4 256.6L788.2 256.3L790.9 256.1L793.6 255.8L796.4 255.6L799.1 255.3L801.9 255.1L804.6 254.9L807.4 254.7L810.1 254.5L812.9 254.2L815.6 254.0L818.4 253.8L821.1 253.6L823.9 253.4L826.6 253.2L829.4 253.1L832.1 253.0L834.9 252.9L837.6 252.9L840.4 252.8L843.1 252.7L845.9 252.7L848.6 252.6L851.3 252.6L854.1 252.6L856.8 252.6L859.6 252.6L862.3 252.6L865.1 252.6L867.8 252.6L870.6 252.6L873.3 252.6L876.1 252.6L878.8 252.6L881.6 252.6L884.3 252.6L887.1 252.6L889.8 252.6L892.6 252.6L895.3 252.7L898.1 252.7L900.8 252.8L903.5 252.9L906.3 252.9L909.0 253.1L911.8 253.2L914.5 253.3L917.3 253.5L920.0 253.9L922.8 254.5L925.5 254.8L928.3 255.0L931.0 255.1L933.8 255.3L936.5 255.4L939.3 255.5L942.0 255.6L944.8 255.7L947.5 255.8L950.3 255.9L953.0 255.9L955.8 256.0L958.5 256.2L961.2 256.3L964.0 256.4L966.7 256.5L969.5 256.6L972.2 256.8L975.0 256.9L977.7 257.0L980.5 257.2L983.2 257.4L986.0 257.6L988.7 257.9L991.5 258.5L994.2 259.2L997.0 260.1L999.7 261.1L1002.5 262.4L1005.2 264.0L1009.0 269.7L1012.4 281.3L1016.0 291.1L1019.7 317.1" fill="none" stroke="#000000" stroke-width="1.6" stroke-linejoin="round"/>
<rect x="679.1" y="324.3" width="8.2" height="8.2" fill="#000000"/>
<rect x="680.7" y="317.6" width="8.2" height="8.2" fill="#000000"/>
<rect x="683.8" y="298.3" width="8.2" height="8.2" fill="#000000"/>
<rect x="687.9" y="286.2" width="8.2" height="8.2" fill="#000000"/>
<rect x="690.6" y="283.0" width="8.2" height="8.2" fill="#000000"/>
<rect x="693.4" y="280.2" width="8.2" height="8.2" fill="#000000"/>
<rect x="696.1" y="277.9" width="8.2" height="8.2" fill="#000000"/>
<rect x="698.9" y="276.0" width="8.2" height="8.2" fill="#000000"/>
<rect x="701.6" y="274.5" width="8.2" height="8.2" fill="#000000"/>
<rect x="704.4" y="273.0" width="8.2" height="8.2" fill="#000000"/>
<rect x="707.1" y="271.5" width="8.2" height="8.2" fill="#000000"/>
<rect x="709.9" y="270.1" width="8.2" height="8.2" fill="#000000"/>
<rect x="712.6" y="268.7" width="8.2" height="8.2" fill="#000000"/>
<rect x="715.4" y="267.5" width="8.2" height="8.2" fill="#000000"/>
<rect x="718.1" y="266.4" width="8.2" height="8.2" fill="#000000"/>
<rect x="720.9" y="265.3" width="8.2" height="8.2" fill="#000000"/>
<rect x="723.6" y="264.4" width="8.2" height="8.2" fill="#000000"/>
<rect x="726.4" y="263.5" width="8.2" height="8.2" fill="#000000"/>
<rect x="729.1" y="262.6" width="8.2" height="8.2" fill="#000000"/>
<rect x="731.9" y="261.8" width="8.2" height="8.2" fill="#000000"/>
<rect x="734.6" y="261.1" width="8.2" height="8.2" fill="#000000"/>
<rect x="737.3" y="260.4" width="8.2" height="8.2" fill="#000000"/>
<rect x="740.1" y="259.7" width="8.2" height="8.2" fill="#000000"/>
<rect x="742.8" y="259.1" width="8.2" height="8.2" fill="#000000"/>
<rect x="745.6" y="258.5" width="8.2" height="8.2" fill="#000000"/>
<rect x="748.3" y="257.8" width="8.2" height="8.2" fill="#000000"/>
<rect x="751.1" y="257.2" width="8.2" height="8.2" fill="#000000"/>
<rect x="753.8" y="256.6" width="8.2" height="8.2" fill="#000000"/>
<rect x="756.6" y="256.0" width="8.2" height="8.2" fill="#000000"/>
<rect x="759.3" y="255.4" width="8.2" height="8.2" fill="#000000"/>
<rect x="762.1" y="254.9" width="8.2" height="8.2" fill="#000000"/>
<rect x="764.8" y="254.4" width="8.2" height="8.2" fill="#000000"/>
<rect x="767.6" y="254.0" width="8.2" height="8.2" fill="#000000"/>
<rect x="770.3" y="253.7" width="8.2" height="8.2" fill="#000000"/>
<rect x="773.1" y="253.4" width="8.2" height="8.2" fill="#000000"/>
<rect x="775.8" y="253.1" width="8.2" height="8.2" fill="#000000"/>
<rect x="778.6" y="252.8" width="8.2" height="8.2" fill="#000000"/>
<rect x="781.3" y="252.5" width="8.2" height="8.2" fill="#000000"/>
<rect x="784.1" y="252.2" width="8.2" height="8.2" fill="#000000"/>
<rect x="786.8" y="252.0" width="8.2" height="8.2" fill="#000000"/>
<rect x="789.5" y="251.7" width="8.2" height="8.2" fill="#000000"/>
<rect x="792.3" y="251.5" width="8.2" height="8.2" fill="#000000"/>
<rect x="795.0" y="251.2" width="8.2" height="8.2" fill="#000000"/>
<rect x="797.8" y="251.0" width="8.2" height="8.2" fill="#000000"/>
<rect x="800.5" y="250.8" width="8.2" height="8.2" fill="#000000"/>
<rect x="803.3" y="250.6" width="8.2" height="8.2" fill="#000000"/>
<rect x="806.0" y="250.4" width="8.2" height="8.2" fill="#000000"/>
<rect x="808.8" y="250.1" width="8.2" height="8.2" fill="#000000"/>
<rect x="811.5" y="249.9" width="8.2" height="8.2" fill="#000000"/>
<rect x="814.3" y="249.7" width="8.2" height="8.2" fill="#000000"/>
<rect x="817.0" y="249.5" width="8.2" height="8.2" fill="#000000"/>
<rect x="819.8" y="249.3" width="8.2" height="8.2" fill="#000000"/>
<rect x="822.5" y="249.1" width="8.2" height="8.2" fill="#000000"/>
<rect x="825.3" y="249.0" width="8.2" height="8.2" fill="#000000"/>
<rect x="828.0" y="248.9" width="8.2" height="8.2" fill="#000000"/>
<rect x="830.8" y="248.8" width="8.2" height="8.2" fill="#000000"/>
<rect x="833.5" y="248.8" width="8.2" height="8.2" fill="#000000"/>
<rect x="836.3" y="248.7" width="8.2" height="8.2" fill="#000000"/>
<rect x="839.0" y="248.6" width="8.2" height="8.2" fill="#000000"/>
<rect x="841.8" y="248.6" width="8.2" height="8.2" fill="#000000"/>
<rect x="844.5" y="248.5" width="8.2" height="8.2" fill="#000000"/>
<rect x="847.2" y="248.5" width="8.2" height="8.2" fill="#000000"/>
<rect x="850.0" y="248.5" width="8.2" height="8.2" fill="#000000"/>
<rect x="852.7" y="248.5" width="8.2" height="8.2" fill="#000000"/>
<rect x="855.5" y="248.5" width="8.2" height="8.2" fill="#000000"/>
<rect x="858.2" y="248.5" width="8.2" height="8.2" fill="#000000"/>
<rect x="861.0" y="248.5" width="8.2" height="8.2" fill="#000000"/>
<rect x="863.7" y="248.5" width="8.2" height="8.2" fill="#000000"/>
<rect x="866.5" y="248.5" width="8.2" height="8.2" fill="#000000"/>
<rect x="869.2" y="248.5" width="8.2" height="8.2" fill="#000000"/>
<rect x="872.0" y="248.5" width="8.2" height="8.2" fill="#000000"/>
<rect x="874.7" y="248.5" width="8.2" height="8.2" fill="#000000"/>
<rect x="877.5" y="248.5" width="8.2" height="8.2" fill="#000000"/>
<rect x="880.2" y="248.5" width="8.2" height="8.2" fill="#000000"/>
<rect x="883.0" y="248.5" width="8.2" height="8.2" fill="#000000"/>
<rect x="885.7" y="248.5" width="8.2" height="8.2" fill="#000000"/>
<rect x="888.5" y="248.5" width="8.2" height="8.2" fill="#000000"/>
<rect x="891.2" y="248.6" width="8.2" height="8.2" fill="#000000"/>
<rect x="894.0" y="248.6" width="8.2" height="8.2" fill="#000000"/>
<rect x="896.7" y="248.7" width="8.2" height="8.2" fill="#000000"/>
<rect x="899.4" y="248.8" width="8.2" height="8.2" fill="#000000"/>
<rect x="902.2" y="248.8" width="8.2" height="8.2" fill="#000000"/>
<rect x="904.9" y="249.0" width="8.2" height="8.2" fill="#000000"/>
<rect x="907.7" y="249.1" width="8.2" height="8.2" fill="#000000"/>
<rect x="910.4" y="249.2" width="8.2" height="8.2" fill="#000000"/>
<rect x="913.2" y="249.4" width="8.2" height="8.2" fill="#000000"/>
<rect x="915.9" y="249.8" width="8.2" height="8.2" fill="#000000"/>
<rect x="918.7" y="250.4" width="8.2" height="8.2" fill="#000000"/>
<rect x="921.4" y="250.7" width="8.2" height="8.2" fill="#000000"/>
<rect x="924.2" y="250.9" width="8.2" height="8.2" fill="#000000"/>
<rect x="926.9" y="251.0" width="8.2" height="8.2" fill="#000000"/>
<rect x="929.7" y="251.2" width="8.2" height="8.2" fill="#000000"/>
<rect x="932.4" y="251.3" width="8.2" height="8.2" fill="#000000"/>
<rect x="935.2" y="251.4" width="8.2" height="8.2" fill="#000000"/>
<rect x="937.9" y="251.5" width="8.2" height="8.2" fill="#000000"/>
<rect x="940.7" y="251.6" width="8.2" height="8.2" fill="#000000"/>
<rect x="943.4" y="251.7" width="8.2" height="8.2" fill="#000000"/>
<rect x="946.2" y="251.8" width="8.2" height="8.2" fill="#000000"/>
<rect x="948.9" y="251.8" width="8.2" height="8.2" fill="#000000"/>
<rect x="951.7" y="251.9" width="8.2" height="8.2" fill="#000000"/>
<rect x="954.4" y="252.1" width="8.2" height="8.2" fill="#000000"/>
<rect x="957.1" y="252.2" width="8.2" height="8.2" fill="#000000"/>
<rect x="959.9" y="252.3" width="8.2" height="8.2" fill="#000000"/>
<rect x="962.6" y="252.4" width="8.2" height="8.2" fill="#000000"/>
<rect x="965.4" y="252.5" width="8.2" height="8.2" fill="#000000"/>
<rect x="968.1" y="252.7" width="8.2" height="8.2" fill="#000000"/>
<rect x="970.9" y="252.8" width="8.2" height="8.2" fill="#000000"/>
<rect x="973.6" y="252.9" width="8.2" height="8.2" fill="#000000"/>
<rect x="976.4" y="253.1" width="8.2" height="8.2" fill="#000000"/>
<rect x="979.1" y="253.3" width="8.2" height="8.2" fill="#000000"/>
<rect x="981.9" y="253.5" width="8.2" height="8.2" fill="#000000"/>
<rect x="984.6" y="253.8" width="8.2" height="8.2" fill="#000000"/>
<rect x="987.4" y="254.4" width="8.2" height="8.2" fill="#000000"/>
<rect x="990.1" y="255.1" width="8.2" height="8.2" fill="#000000"/>
<rect x="992.9" y="256.0" width="8.2" height="8.2" fill="#000000"/>
<rect x="995.6" y="257.0" width="8.2" height="8.2" fill="#000000"/>
<rect x="998.4" y="258.3" width="8.2" height="8.2" fill="#000000"/>
<rect x="1001.1" y="259.9" width="8.2" height="8.2" fill="#000000"/>
<rect x="1004.9" y="265.6" width="8.2" height="8.2" fill="#000000"/>
<rect x="1008.3" y="277.2" width="8.2" height="8.2" fill="#000000"/>
<rect x="1011.9" y="287.0" width="8.2" height="8.2" fill="#000000"/>
<rect x="1015.6" y="313.0" width="8.2" height="8.2" fill="#000000"/>
<path d="M683.8 327.1L687.1 299.7L690.6 241.5L694.3 209.4L697.5 195.6L700.5 186.2L703.5 181.6L706.4 177.9L709.4 174.2L712.4 171.0L715.4 168.2L718.4 165.7L721.4 163.5L724.3 161.5L727.3 159.7L730.3 158.1L733.3 156.6L736.3 155.4L739.2 154.4L742.2 153.4L745.2 152.6L748.2 151.9L751.2 151.5L754.2 151.1L757.1 150.8L760.1 150.5L763.1 150.3L766.1 150.3L769.1 150.4L772.1 150.6L775.0 150.8L778.0 151.2L781.0 151.5L784.0 151.8L787.0 152.1L790.0 152.5L792.9 152.9L795.9 153.3L798.9 153.8L801.9 154.2L804.9 154.7L807.9 155.2L810.8 155.7L813.8 156.2L816.8 156.7L819.8 157.2L822.8 157.8L825.8 158.5L828.7 159.1L831.7 159.9L834.7 160.6L837.7 161.4L840.7 162.2L843.7 163.0L846.6 163.8L849.6 164.7L852.6 165.6L855.6 166.5L858.6 167.4L861.6 168.3L864.5 169.2L867.5 170.1L870.5 171.0L873.5 171.9L876.5 172.8L879.4 173.7L882.4 174.6L885.4 175.3L888.4 176.1L891.4 176.8L894.4 177.5L897.3 178.3L900.3 179.1L903.3 180.0L906.3 180.9L909.3 181.9L912.3 183.0L915.2 184.3L918.2 185.8L921.2 187.7L924.2 189.8L927.2 191.9L930.2 193.9L933.1 195.8L936.1 197.6L939.1 199.4L942.1 201.2L945.1 203.0L948.1 204.7L951.0 206.3L954.0 208.2L957.0 210.4L960.0 213.0L963.0 215.9L966.0 219.0L968.9 222.5L971.9 226.2L974.9 230.1L977.9 234.1L980.9 238.3L983.9 242.7L986.8 247.5L995.2 267.0L999.1 277.8L1003.2 288.4L1006.5 303.1L1009.8 322.0" fill="none" stroke="#0d4da1" stroke-width="1.6" stroke-linejoin="round"/>
<path d="M683.8 322.3L689.4 332.0H678.2Z" fill="#0d4da1"/>
<path d="M687.1 294.8L692.7 304.5H681.5Z" fill="#0d4da1"/>
<path d="M690.6 236.7L696.2 246.4H685.0Z" fill="#0d4da1"/>
<path d="M694.3 204.5L700.0 214.2H688.7Z" fill="#0d4da1"/>
<path d="M697.5 190.8L703.1 200.5H691.9Z" fill="#0d4da1"/>
<path d="M700.5 181.4L706.1 191.1H694.9Z" fill="#0d4da1"/>
<path d="M703.5 176.8L709.1 186.4H697.8Z" fill="#0d4da1"/>
<path d="M706.4 173.0L712.0 182.7H700.8Z" fill="#0d4da1"/>
<path d="M709.4 169.4L715.0 179.1H703.8Z" fill="#0d4da1"/>
<path d="M712.4 166.2L718.0 175.9H706.8Z" fill="#0d4da1"/>
<path d="M715.4 163.4L721.0 173.1H709.8Z" fill="#0d4da1"/>
<path d="M718.4 160.9L724.0 170.6H712.8Z" fill="#0d4da1"/>
<path d="M721.4 158.6L727.0 168.3H715.7Z" fill="#0d4da1"/>
<path d="M724.3 156.7L729.9 166.3H718.7Z" fill="#0d4da1"/>
<path d="M727.3 154.9L732.9 164.5H721.7Z" fill="#0d4da1"/>
<path d="M730.3 153.2L735.9 162.9H724.7Z" fill="#0d4da1"/>
<path d="M733.3 151.8L738.9 161.5H727.7Z" fill="#0d4da1"/>
<path d="M736.3 150.6L741.9 160.3H730.7Z" fill="#0d4da1"/>
<path d="M739.2 149.5L744.9 159.2H733.6Z" fill="#0d4da1"/>
<path d="M742.2 148.6L747.8 158.2H736.6Z" fill="#0d4da1"/>
<path d="M745.2 147.7L750.8 157.4H739.6Z" fill="#0d4da1"/>
<path d="M748.2 147.1L753.8 156.8H742.6Z" fill="#0d4da1"/>
<path d="M751.2 146.7L756.8 156.3H745.6Z" fill="#0d4da1"/>
<path d="M754.2 146.3L759.8 155.9H748.6Z" fill="#0d4da1"/>
<path d="M757.1 145.9L762.8 155.6H751.5Z" fill="#0d4da1"/>
<path d="M760.1 145.6L765.7 155.3H754.5Z" fill="#0d4da1"/>
<path d="M763.1 145.5L768.7 155.1H757.5Z" fill="#0d4da1"/>
<path d="M766.1 145.4L771.7 155.1H760.5Z" fill="#0d4da1"/>
<path d="M769.1 145.5L774.7 155.2H763.5Z" fill="#0d4da1"/>
<path d="M772.1 145.7L777.7 155.4H766.5Z" fill="#0d4da1"/>
<path d="M775.0 146.0L780.7 155.7H769.4Z" fill="#0d4da1"/>
<path d="M778.0 146.3L783.6 156.0H772.4Z" fill="#0d4da1"/>
<path d="M781.0 146.6L786.6 156.3H775.4Z" fill="#0d4da1"/>
<path d="M784.0 147.0L789.6 156.6H778.4Z" fill="#0d4da1"/>
<path d="M787.0 147.3L792.6 157.0H781.4Z" fill="#0d4da1"/>
<path d="M790.0 147.7L795.6 157.4H784.4Z" fill="#0d4da1"/>
<path d="M792.9 148.1L798.6 157.8H787.3Z" fill="#0d4da1"/>
<path d="M795.9 148.5L801.5 158.2H790.3Z" fill="#0d4da1"/>
<path d="M798.9 148.9L804.5 158.6H793.3Z" fill="#0d4da1"/>
<path d="M801.9 149.4L807.5 159.1H796.3Z" fill="#0d4da1"/>
<path d="M804.9 149.9L810.5 159.5H799.3Z" fill="#0d4da1"/>
<path d="M807.9 150.3L813.5 160.0H802.2Z" fill="#0d4da1"/>
<path d="M810.8 150.8L816.5 160.5H805.2Z" fill="#0d4da1"/>
<path d="M813.8 151.3L819.4 161.0H808.2Z" fill="#0d4da1"/>
<path d="M816.8 151.9L822.4 161.5H811.2Z" fill="#0d4da1"/>
<path d="M819.8 152.4L825.4 162.1H814.2Z" fill="#0d4da1"/>
<path d="M822.8 153.0L828.4 162.7H817.2Z" fill="#0d4da1"/>
<path d="M825.8 153.6L831.4 163.3H820.1Z" fill="#0d4da1"/>
<path d="M828.7 154.3L834.3 164.0H823.1Z" fill="#0d4da1"/>
<path d="M831.7 155.0L837.3 164.7H826.1Z" fill="#0d4da1"/>
<path d="M834.7 155.8L840.3 165.5H829.1Z" fill="#0d4da1"/>
<path d="M837.7 156.6L843.3 166.2H832.1Z" fill="#0d4da1"/>
<path d="M840.7 157.3L846.3 167.0H835.1Z" fill="#0d4da1"/>
<path d="M843.7 158.1L849.3 167.8H838.0Z" fill="#0d4da1"/>
<path d="M846.6 159.0L852.2 168.7H841.0Z" fill="#0d4da1"/>
<path d="M849.6 159.9L855.2 169.5H844.0Z" fill="#0d4da1"/>
<path d="M852.6 160.8L858.2 170.4H847.0Z" fill="#0d4da1"/>
<path d="M855.6 161.7L861.2 171.4H850.0Z" fill="#0d4da1"/>
<path d="M858.6 162.6L864.2 172.3H853.0Z" fill="#0d4da1"/>
<path d="M861.6 163.5L867.2 173.2H855.9Z" fill="#0d4da1"/>
<path d="M864.5 164.4L870.1 174.1H858.9Z" fill="#0d4da1"/>
<path d="M867.5 165.3L873.1 175.0H861.9Z" fill="#0d4da1"/>
<path d="M870.5 166.2L876.1 175.9H864.9Z" fill="#0d4da1"/>
<path d="M873.5 167.1L879.1 176.8H867.9Z" fill="#0d4da1"/>
<path d="M876.5 168.0L882.1 177.7H870.9Z" fill="#0d4da1"/>
<path d="M879.4 168.9L885.1 178.5H873.8Z" fill="#0d4da1"/>
<path d="M882.4 169.7L888.0 179.4H876.8Z" fill="#0d4da1"/>
<path d="M885.4 170.5L891.0 180.2H879.8Z" fill="#0d4da1"/>
<path d="M888.4 171.2L894.0 180.9H882.8Z" fill="#0d4da1"/>
<path d="M891.4 172.0L897.0 181.7H885.8Z" fill="#0d4da1"/>
<path d="M894.4 172.7L900.0 182.4H888.8Z" fill="#0d4da1"/>
<path d="M897.3 173.5L903.0 183.1H891.7Z" fill="#0d4da1"/>
<path d="M900.3 174.3L905.9 183.9H894.7Z" fill="#0d4da1"/>
<path d="M903.3 175.2L908.9 184.8H897.7Z" fill="#0d4da1"/>
<path d="M906.3 176.1L911.9 185.8H900.7Z" fill="#0d4da1"/>
<path d="M909.3 177.1L914.9 186.7H903.7Z" fill="#0d4da1"/>
<path d="M912.3 178.2L917.9 187.8H906.7Z" fill="#0d4da1"/>
<path d="M915.2 179.4L920.9 189.1H909.6Z" fill="#0d4da1"/>
<path d="M918.2 180.9L923.8 190.6H912.6Z" fill="#0d4da1"/>
<path d="M921.2 182.8L926.8 192.5H915.6Z" fill="#0d4da1"/>
<path d="M924.2 184.9L929.8 194.6H918.6Z" fill="#0d4da1"/>
<path d="M927.2 187.1L932.8 196.7H921.6Z" fill="#0d4da1"/>
<path d="M930.2 189.0L935.8 198.7H924.6Z" fill="#0d4da1"/>
<path d="M933.1 190.9L938.8 200.6H927.5Z" fill="#0d4da1"/>
<path d="M936.1 192.8L941.7 202.4H930.5Z" fill="#0d4da1"/>
<path d="M939.1 194.6L944.7 204.3H933.5Z" fill="#0d4da1"/>
<path d="M942.1 196.4L947.7 206.1H936.5Z" fill="#0d4da1"/>
<path d="M945.1 198.2L950.7 207.9H939.5Z" fill="#0d4da1"/>
<path d="M948.1 199.8L953.7 209.5H942.4Z" fill="#0d4da1"/>
<path d="M951.0 201.5L956.7 211.2H945.4Z" fill="#0d4da1"/>
<path d="M954.0 203.3L959.6 213.0H948.4Z" fill="#0d4da1"/>
<path d="M957.0 205.5L962.6 215.2H951.4Z" fill="#0d4da1"/>
<path d="M960.0 208.1L965.6 217.8H954.4Z" fill="#0d4da1"/>
<path d="M963.0 211.1L968.6 220.7H957.4Z" fill="#0d4da1"/>
<path d="M966.0 214.2L971.6 223.9H960.3Z" fill="#0d4da1"/>
<path d="M968.9 217.6L974.5 227.3H963.3Z" fill="#0d4da1"/>
<path d="M971.9 221.4L977.5 231.0H966.3Z" fill="#0d4da1"/>
<path d="M974.9 225.3L980.5 235.0H969.3Z" fill="#0d4da1"/>
<path d="M977.9 229.3L983.5 238.9H972.3Z" fill="#0d4da1"/>
<path d="M980.9 233.4L986.5 243.1H975.3Z" fill="#0d4da1"/>
<path d="M983.9 237.9L989.5 247.6H978.2Z" fill="#0d4da1"/>
<path d="M986.8 242.7L992.4 252.3H981.2Z" fill="#0d4da1"/>
<path d="M995.2 262.2L1000.8 271.9H989.5Z" fill="#0d4da1"/>
<path d="M999.1 273.0L1004.7 282.7H993.5Z" fill="#0d4da1"/>
<path d="M1003.2 283.5L1008.8 293.2H997.6Z" fill="#0d4da1"/>
<path d="M1006.5 298.3L1012.1 307.9H1000.9Z" fill="#0d4da1"/>
<path d="M1009.8 317.2L1015.4 326.8H1004.1Z" fill="#0d4da1"/>
<path d="M683.7 324.7L687.1 246.9L690.0 168.7L693.2 121.1L696.0 98.9L698.8 86.9L701.5 78.0L704.3 72.1L707.1 68.4L709.8 65.7L712.6 63.6L715.4 61.6L718.1 59.7L720.9 58.2L723.6 57.0L726.4 55.9L729.2 55.0L731.9 54.2L734.7 53.4L737.5 52.9L740.2 52.6L743.0 52.4L745.7 52.3L748.5 52.2L751.3 52.1L754.0 52.1L756.8 52.3L759.6 52.5L762.3 52.9L765.1 53.3L767.9 53.9L770.6 54.8L773.4 56.0L776.1 57.2L778.9 58.4L781.7 59.4L784.4 60.4L787.2 61.4L790.0 62.5L792.7 63.7L795.5 65.1L798.2 66.7L801.0 68.5L803.8 70.3L806.5 72.1L809.3 74.0L812.1 75.9L814.8 77.8L817.6 79.8L820.4 81.9L823.1 83.9L825.9 86.0L828.6 88.1L831.4 90.2L834.2 92.4L836.9 94.6L839.7 96.8L842.5 99.1L845.2 101.4L848.0 103.7L850.8 106.0L853.5 108.2L856.3 110.2L859.0 112.2L861.8 114.0L864.6 115.9L867.3 117.7L870.1 119.7L872.9 121.7L875.6 123.8L878.4 125.9L881.1 128.0L883.9 130.3L886.7 132.6L889.4 135.0L892.2 137.4L895.0 139.9L897.7 142.6L900.5 145.5L903.3 148.8L906.0 152.8L908.8 157.1L911.5 161.2L914.3 164.8L917.1 168.2L919.8 171.5L922.6 175.0L925.4 178.7L928.1 182.5L930.9 186.4L933.6 190.2L936.4 194.1L939.2 198.4L941.9 203.4L944.7 209.2L947.5 215.4L950.2 222.0L953.0 228.2L955.8 234.7L958.5 243.0L963.0 257.7L966.3 268.3L968.9 280.5L971.5 301.4L974.4 324.0" fill="none" stroke="#9b68b7" stroke-width="1.6" stroke-linejoin="round"/>
<path d="M683.7 329.5L689.3 319.9H678.1Z" fill="#9b68b7"/>
<path d="M687.1 251.8L692.7 242.1H681.5Z" fill="#9b68b7"/>
<path d="M690.0 173.5L695.6 163.8H684.3Z" fill="#9b68b7"/>
<path d="M693.2 125.9L698.9 116.2H687.6Z" fill="#9b68b7"/>
<path d="M696.0 103.7L701.6 94.1H690.4Z" fill="#9b68b7"/>
<path d="M698.8 91.8L704.4 82.1H693.2Z" fill="#9b68b7"/>
<path d="M701.5 82.8L707.1 73.2H695.9Z" fill="#9b68b7"/>
<path d="M704.3 77.0L709.9 67.3H698.7Z" fill="#9b68b7"/>
<path d="M707.1 73.3L712.7 63.6H701.5Z" fill="#9b68b7"/>
<path d="M709.8 70.6L715.4 60.9H704.2Z" fill="#9b68b7"/>
<path d="M712.6 68.4L718.2 58.7H707.0Z" fill="#9b68b7"/>
<path d="M715.4 66.4L721.0 56.7H709.7Z" fill="#9b68b7"/>
<path d="M718.1 64.5L723.7 54.9H712.5Z" fill="#9b68b7"/>
<path d="M720.9 63.1L726.5 53.4H715.3Z" fill="#9b68b7"/>
<path d="M723.6 61.8L729.3 52.1H718.0Z" fill="#9b68b7"/>
<path d="M726.4 60.7L732.0 51.0H720.8Z" fill="#9b68b7"/>
<path d="M729.2 59.8L734.8 50.1H723.6Z" fill="#9b68b7"/>
<path d="M731.9 59.0L737.5 49.3H726.3Z" fill="#9b68b7"/>
<path d="M734.7 58.3L740.3 48.6H729.1Z" fill="#9b68b7"/>
<path d="M737.5 57.7L743.1 48.0H731.8Z" fill="#9b68b7"/>
<path d="M740.2 57.4L745.8 47.7H734.6Z" fill="#9b68b7"/>
<path d="M743.0 57.3L748.6 47.6H737.4Z" fill="#9b68b7"/>
<path d="M745.7 57.1L751.4 47.5H740.1Z" fill="#9b68b7"/>
<path d="M748.5 57.0L754.1 47.4H742.9Z" fill="#9b68b7"/>
<path d="M751.3 57.0L756.9 47.3H745.7Z" fill="#9b68b7"/>
<path d="M754.0 57.0L759.6 47.3H748.4Z" fill="#9b68b7"/>
<path d="M756.8 57.1L762.4 47.4H751.2Z" fill="#9b68b7"/>
<path d="M759.6 57.4L765.2 47.7H754.0Z" fill="#9b68b7"/>
<path d="M762.3 57.7L767.9 48.0H756.7Z" fill="#9b68b7"/>
<path d="M765.1 58.1L770.7 48.5H759.5Z" fill="#9b68b7"/>
<path d="M767.9 58.7L773.5 49.1H762.2Z" fill="#9b68b7"/>
<path d="M770.6 59.7L776.2 50.0H765.0Z" fill="#9b68b7"/>
<path d="M773.4 60.8L779.0 51.1H767.8Z" fill="#9b68b7"/>
<path d="M776.1 62.0L781.8 52.4H770.5Z" fill="#9b68b7"/>
<path d="M778.9 63.2L784.5 53.5H773.3Z" fill="#9b68b7"/>
<path d="M781.7 64.2L787.3 54.6H776.1Z" fill="#9b68b7"/>
<path d="M784.4 65.2L790.0 55.6H778.8Z" fill="#9b68b7"/>
<path d="M787.2 66.3L792.8 56.6H781.6Z" fill="#9b68b7"/>
<path d="M790.0 67.4L795.6 57.7H784.4Z" fill="#9b68b7"/>
<path d="M792.7 68.6L798.3 58.9H787.1Z" fill="#9b68b7"/>
<path d="M795.5 70.0L801.1 60.3H789.9Z" fill="#9b68b7"/>
<path d="M798.2 71.6L803.9 61.9H792.6Z" fill="#9b68b7"/>
<path d="M801.0 73.3L806.6 63.6H795.4Z" fill="#9b68b7"/>
<path d="M803.8 75.1L809.4 65.5H798.2Z" fill="#9b68b7"/>
<path d="M806.5 77.0L812.1 67.3H800.9Z" fill="#9b68b7"/>
<path d="M809.3 78.8L814.9 69.1H803.7Z" fill="#9b68b7"/>
<path d="M812.1 80.7L817.7 71.1H806.5Z" fill="#9b68b7"/>
<path d="M814.8 82.7L820.4 73.0H809.2Z" fill="#9b68b7"/>
<path d="M817.6 84.7L823.2 75.0H812.0Z" fill="#9b68b7"/>
<path d="M820.4 86.7L826.0 77.0H814.7Z" fill="#9b68b7"/>
<path d="M823.1 88.8L828.7 79.1H817.5Z" fill="#9b68b7"/>
<path d="M825.9 90.8L831.5 81.1H820.3Z" fill="#9b68b7"/>
<path d="M828.6 92.9L834.3 83.3H823.0Z" fill="#9b68b7"/>
<path d="M831.4 95.1L837.0 85.4H825.8Z" fill="#9b68b7"/>
<path d="M834.2 97.2L839.8 87.6H828.6Z" fill="#9b68b7"/>
<path d="M836.9 99.4L842.5 89.7H831.3Z" fill="#9b68b7"/>
<path d="M839.7 101.6L845.3 91.9H834.1Z" fill="#9b68b7"/>
<path d="M842.5 103.9L848.1 94.2H836.9Z" fill="#9b68b7"/>
<path d="M845.2 106.2L850.8 96.5H839.6Z" fill="#9b68b7"/>
<path d="M848.0 108.5L853.6 98.9H842.4Z" fill="#9b68b7"/>
<path d="M850.8 110.8L856.4 101.2H845.1Z" fill="#9b68b7"/>
<path d="M853.5 113.0L859.1 103.3H847.9Z" fill="#9b68b7"/>
<path d="M856.3 115.1L861.9 105.4H850.7Z" fill="#9b68b7"/>
<path d="M859.0 117.0L864.6 107.3H853.4Z" fill="#9b68b7"/>
<path d="M861.8 118.9L867.4 109.2H856.2Z" fill="#9b68b7"/>
<path d="M864.6 120.7L870.2 111.0H859.0Z" fill="#9b68b7"/>
<path d="M867.3 122.6L872.9 112.9H861.7Z" fill="#9b68b7"/>
<path d="M870.1 124.5L875.7 114.8H864.5Z" fill="#9b68b7"/>
<path d="M872.9 126.5L878.5 116.9H867.2Z" fill="#9b68b7"/>
<path d="M875.6 128.6L881.2 118.9H870.0Z" fill="#9b68b7"/>
<path d="M878.4 130.7L884.0 121.0H872.8Z" fill="#9b68b7"/>
<path d="M881.1 132.9L886.8 123.2H875.5Z" fill="#9b68b7"/>
<path d="M883.9 135.1L889.5 125.5H878.3Z" fill="#9b68b7"/>
<path d="M886.7 137.5L892.3 127.8H881.1Z" fill="#9b68b7"/>
<path d="M889.4 139.8L895.0 130.2H883.8Z" fill="#9b68b7"/>
<path d="M892.2 142.2L897.8 132.6H886.6Z" fill="#9b68b7"/>
<path d="M895.0 144.8L900.6 135.1H889.4Z" fill="#9b68b7"/>
<path d="M897.7 147.4L903.3 137.8H892.1Z" fill="#9b68b7"/>
<path d="M900.5 150.4L906.1 140.7H894.9Z" fill="#9b68b7"/>
<path d="M903.3 153.7L908.9 144.0H897.6Z" fill="#9b68b7"/>
<path d="M906.0 157.7L911.6 148.0H900.4Z" fill="#9b68b7"/>
<path d="M908.8 162.0L914.4 152.3H903.2Z" fill="#9b68b7"/>
<path d="M911.5 166.1L917.2 156.4H905.9Z" fill="#9b68b7"/>
<path d="M914.3 169.7L919.9 160.0H908.7Z" fill="#9b68b7"/>
<path d="M917.1 173.0L922.7 163.3H911.5Z" fill="#9b68b7"/>
<path d="M919.8 176.4L925.4 166.7H914.2Z" fill="#9b68b7"/>
<path d="M922.6 179.9L928.2 170.2H917.0Z" fill="#9b68b7"/>
<path d="M925.4 183.6L931.0 173.9H919.7Z" fill="#9b68b7"/>
<path d="M928.1 187.3L933.7 177.7H922.5Z" fill="#9b68b7"/>
<path d="M930.9 191.2L936.5 181.5H925.3Z" fill="#9b68b7"/>
<path d="M933.6 195.1L939.3 185.4H928.0Z" fill="#9b68b7"/>
<path d="M936.4 199.0L942.0 189.3H930.8Z" fill="#9b68b7"/>
<path d="M939.2 203.2L944.8 193.5H933.6Z" fill="#9b68b7"/>
<path d="M941.9 208.3L947.5 198.6H936.3Z" fill="#9b68b7"/>
<path d="M944.7 214.0L950.3 204.3H939.1Z" fill="#9b68b7"/>
<path d="M947.5 220.2L953.1 210.5H941.9Z" fill="#9b68b7"/>
<path d="M950.2 226.8L955.8 217.1H944.6Z" fill="#9b68b7"/>
<path d="M953.0 233.0L958.6 223.3H947.4Z" fill="#9b68b7"/>
<path d="M955.8 239.5L961.4 229.8H950.1Z" fill="#9b68b7"/>
<path d="M958.5 247.8L964.1 238.1H952.9Z" fill="#9b68b7"/>
<path d="M963.0 262.6L968.6 252.9H957.4Z" fill="#9b68b7"/>
<path d="M966.3 273.1L971.9 263.4H960.7Z" fill="#9b68b7"/>
<path d="M968.9 285.4L974.6 275.7H963.3Z" fill="#9b68b7"/>
<path d="M971.5 306.2L977.1 296.5H965.8Z" fill="#9b68b7"/>
<path d="M974.4 328.8L980.0 319.1H968.8Z" fill="#9b68b7"/>
<path d="M683.8 328.1L685.1 317.1L688.5 286.7L692.8 254.0L696.9 242.3L699.6 237.8L702.4 234.1L705.1 231.1L707.8 228.5L710.6 226.2L713.3 224.1L716.1 222.2L718.8 220.5L721.6 219.0L724.3 217.6L727.1 216.4L729.8 215.3L732.6 214.2L735.3 213.3L738.1 212.4L740.8 211.5L743.6 210.7L746.3 210.0L749.1 209.5L751.8 209.0L754.6 208.5L757.3 208.1L760.1 207.8L762.8 207.4L765.5 207.2L768.3 207.0L771.0 206.9L773.8 206.7L776.5 206.6L779.3 206.6L782.0 206.5L784.8 206.5L787.5 206.4L790.3 206.6L793.0 207.0L795.8 207.5L798.5 208.0L801.3 208.3L804.0 208.4L806.8 208.4L809.5 208.4L812.3 208.4L815.0 208.4L817.7 208.4L820.5 208.4L823.2 208.4L826.0 208.4L828.7 208.5L831.5 208.7L834.2 209.2L837.0 209.7L839.7 210.3L842.5 210.8L845.2 211.4L848.0 211.8L850.7 212.0L853.5 212.2L856.2 212.4L859.0 212.5L861.7 212.7L864.5 212.9L867.2 213.0L870.0 213.3L872.7 213.5L875.4 213.8L878.2 214.2L880.9 214.6L883.7 215.0L886.4 215.4L889.2 215.8L891.9 216.2L894.7 216.5L897.4 216.8L900.2 217.1L902.9 217.3L905.7 217.5L908.4 217.7L911.2 218.0L913.9 218.2L916.7 218.5L919.4 218.9L922.2 219.3L924.9 219.8L927.6 220.3L930.4 220.8L933.1 221.4L935.9 222.0L938.6 222.6L941.4 223.1L944.1 223.6L946.9 224.1L949.6 224.5L952.4 224.8L955.1 225.2L957.9 225.5L960.6 225.8L963.4 226.1L966.1 226.4L970.8 227.1L975.5 227.9L980.2 229.0L985.0 230.3L989.7 231.8L994.4 233.4L999.1 235.3L1003.8 237.5L1008.5 240.0L1013.2 242.7L1017.9 245.7L1022.6 248.2L1027.3 250.1L1032.5 252.6L1035.8 256.2L1039.7 271.9L1043.4 299.9" fill="none" stroke="#ef4623" stroke-width="1.6" stroke-linejoin="round"/>
<circle cx="683.8" cy="328.1" r="4.25" fill="#ef4623"/>
<circle cx="685.1" cy="317.1" r="4.25" fill="#ef4623"/>
<circle cx="688.5" cy="286.7" r="4.25" fill="#ef4623"/>
<circle cx="692.8" cy="254.0" r="4.25" fill="#ef4623"/>
<circle cx="696.9" cy="242.3" r="4.25" fill="#ef4623"/>
<circle cx="699.6" cy="237.8" r="4.25" fill="#ef4623"/>
<circle cx="702.4" cy="234.1" r="4.25" fill="#ef4623"/>
<circle cx="705.1" cy="231.1" r="4.25" fill="#ef4623"/>
<circle cx="707.8" cy="228.5" r="4.25" fill="#ef4623"/>
<circle cx="710.6" cy="226.2" r="4.25" fill="#ef4623"/>
<circle cx="713.3" cy="224.1" r="4.25" fill="#ef4623"/>
<circle cx="716.1" cy="222.2" r="4.25" fill="#ef4623"/>
<circle cx="718.8" cy="220.5" r="4.25" fill="#ef4623"/>
<circle cx="721.6" cy="219.0" r="4.25" fill="#ef4623"/>
<circle cx="724.3" cy="217.6" r="4.25" fill="#ef4623"/>
<circle cx="727.1" cy="216.4" r="4.25" fill="#ef4623"/>
<circle cx="729.8" cy="215.3" r="4.25" fill="#ef4623"/>
<circle cx="732.6" cy="214.2" r="4.25" fill="#ef4623"/>
<circle cx="735.3" cy="213.3" r="4.25" fill="#ef4623"/>
<circle cx="738.1" cy="212.4" r="4.25" fill="#ef4623"/>
<circle cx="740.8" cy="211.5" r="4.25" fill="#ef4623"/>
<circle cx="743.6" cy="210.7" r="4.25" fill="#ef4623"/>
<circle cx="746.3" cy="210.0" r="4.25" fill="#ef4623"/>
<circle cx="749.1" cy="209.5" r="4.25" fill="#ef4623"/>
<circle cx="751.8" cy="209.0" r="4.25" fill="#ef4623"/>
<circle cx="754.6" cy="208.5" r="4.25" fill="#ef4623"/>
<circle cx="757.3" cy="208.1" r="4.25" fill="#ef4623"/>
<circle cx="760.1" cy="207.8" r="4.25" fill="#ef4623"/>
<circle cx="762.8" cy="207.4" r="4.25" fill="#ef4623"/>
<circle cx="765.5" cy="207.2" r="4.25" fill="#ef4623"/>
<circle cx="768.3" cy="207.0" r="4.25" fill="#ef4623"/>
<circle cx="771.0" cy="206.9" r="4.25" fill="#ef4623"/>
<circle cx="773.8" cy="206.7" r="4.25" fill="#ef4623"/>
<circle cx="776.5" cy="206.6" r="4.25" fill="#ef4623"/>
<circle cx="779.3" cy="206.6" r="4.25" fill="#ef4623"/>
<circle cx="782.0" cy="206.5" r="4.25" fill="#ef4623"/>
<circle cx="784.8" cy="206.5" r="4.25" fill="#ef4623"/>
<circle cx="787.5" cy="206.4" r="4.25" fill="#ef4623"/>
<circle cx="790.3" cy="206.6" r="4.25" fill="#ef4623"/>
<circle cx="793.0" cy="207.0" r="4.25" fill="#ef4623"/>
<circle cx="795.8" cy="207.5" r="4.25" fill="#ef4623"/>
<circle cx="798.5" cy="208.0" r="4.25" fill="#ef4623"/>
<circle cx="801.3" cy="208.3" r="4.25" fill="#ef4623"/>
<circle cx="804.0" cy="208.4" r="4.25" fill="#ef4623"/>
<circle cx="806.8" cy="208.4" r="4.25" fill="#ef4623"/>
<circle cx="809.5" cy="208.4" r="4.25" fill="#ef4623"/>
<circle cx="812.3" cy="208.4" r="4.25" fill="#ef4623"/>
<circle cx="815.0" cy="208.4" r="4.25" fill="#ef4623"/>
<circle cx="817.7" cy="208.4" r="4.25" fill="#ef4623"/>
<circle cx="820.5" cy="208.4" r="4.25" fill="#ef4623"/>
<circle cx="823.2" cy="208.4" r="4.25" fill="#ef4623"/>
<circle cx="826.0" cy="208.4" r="4.25" fill="#ef4623"/>
<circle cx="828.7" cy="208.5" r="4.25" fill="#ef4623"/>
<circle cx="831.5" cy="208.7" r="4.25" fill="#ef4623"/>
<circle cx="834.2" cy="209.2" r="4.25" fill="#ef4623"/>
<circle cx="837.0" cy="209.7" r="4.25" fill="#ef4623"/>
<circle cx="839.7" cy="210.3" r="4.25" fill="#ef4623"/>
<circle cx="842.5" cy="210.8" r="4.25" fill="#ef4623"/>
<circle cx="845.2" cy="211.4" r="4.25" fill="#ef4623"/>
<circle cx="848.0" cy="211.8" r="4.25" fill="#ef4623"/>
<circle cx="850.7" cy="212.0" r="4.25" fill="#ef4623"/>
<circle cx="853.5" cy="212.2" r="4.25" fill="#ef4623"/>
<circle cx="856.2" cy="212.4" r="4.25" fill="#ef4623"/>
<circle cx="859.0" cy="212.5" r="4.25" fill="#ef4623"/>
<circle cx="861.7" cy="212.7" r="4.25" fill="#ef4623"/>
<circle cx="864.5" cy="212.9" r="4.25" fill="#ef4623"/>
<circle cx="867.2" cy="213.0" r="4.25" fill="#ef4623"/>
<circle cx="870.0" cy="213.3" r="4.25" fill="#ef4623"/>
<circle cx="872.7" cy="213.5" r="4.25" fill="#ef4623"/>
<circle cx="875.4" cy="213.8" r="4.25" fill="#ef4623"/>
<circle cx="878.2" cy="214.2" r="4.25" fill="#ef4623"/>
<circle cx="880.9" cy="214.6" r="4.25" fill="#ef4623"/>
<circle cx="883.7" cy="215.0" r="4.25" fill="#ef4623"/>
<circle cx="886.4" cy="215.4" r="4.25" fill="#ef4623"/>
<circle cx="889.2" cy="215.8" r="4.25" fill="#ef4623"/>
<circle cx="891.9" cy="216.2" r="4.25" fill="#ef4623"/>
<circle cx="894.7" cy="216.5" r="4.25" fill="#ef4623"/>
<circle cx="897.4" cy="216.8" r="4.25" fill="#ef4623"/>
<circle cx="900.2" cy="217.1" r="4.25" fill="#ef4623"/>
<circle cx="902.9" cy="217.3" r="4.25" fill="#ef4623"/>
<circle cx="905.7" cy="217.5" r="4.25" fill="#ef4623"/>
<circle cx="908.4" cy="217.7" r="4.25" fill="#ef4623"/>
<circle cx="911.2" cy="218.0" r="4.25" fill="#ef4623"/>
<circle cx="913.9" cy="218.2" r="4.25" fill="#ef4623"/>
<circle cx="916.7" cy="218.5" r="4.25" fill="#ef4623"/>
<circle cx="919.4" cy="218.9" r="4.25" fill="#ef4623"/>
<circle cx="922.2" cy="219.3" r="4.25" fill="#ef4623"/>
<circle cx="924.9" cy="219.8" r="4.25" fill="#ef4623"/>
<circle cx="927.6" cy="220.3" r="4.25" fill="#ef4623"/>
<circle cx="930.4" cy="220.8" r="4.25" fill="#ef4623"/>
<circle cx="933.1" cy="221.4" r="4.25" fill="#ef4623"/>
<circle cx="935.9" cy="222.0" r="4.25" fill="#ef4623"/>
<circle cx="938.6" cy="222.6" r="4.25" fill="#ef4623"/>
<circle cx="941.4" cy="223.1" r="4.25" fill="#ef4623"/>
<circle cx="944.1" cy="223.6" r="4.25" fill="#ef4623"/>
<circle cx="946.9" cy="224.1" r="4.25" fill="#ef4623"/>
<circle cx="949.6" cy="224.5" r="4.25" fill="#ef4623"/>
<circle cx="952.4" cy="224.8" r="4.25" fill="#ef4623"/>
<circle cx="955.1" cy="225.2" r="4.25" fill="#ef4623"/>
<circle cx="957.9" cy="225.5" r="4.25" fill="#ef4623"/>
<circle cx="960.6" cy="225.8" r="4.25" fill="#ef4623"/>
<circle cx="963.4" cy="226.1" r="4.25" fill="#ef4623"/>
<circle cx="966.1" cy="226.4" r="4.25" fill="#ef4623"/>
<circle cx="970.8" cy="227.1" r="4.25" fill="#ef4623"/>
<circle cx="975.5" cy="227.9" r="4.25" fill="#ef4623"/>
<circle cx="980.2" cy="229.0" r="4.25" fill="#ef4623"/>
<circle cx="985.0" cy="230.3" r="4.25" fill="#ef4623"/>
<circle cx="989.7" cy="231.8" r="4.25" fill="#ef4623"/>
<circle cx="994.4" cy="233.4" r="4.25" fill="#ef4623"/>
<circle cx="999.1" cy="235.3" r="4.25" fill="#ef4623"/>
<circle cx="1003.8" cy="237.5" r="4.25" fill="#ef4623"/>
<circle cx="1008.5" cy="240.0" r="4.25" fill="#ef4623"/>
<circle cx="1013.2" cy="242.7" r="4.25" fill="#ef4623"/>
<circle cx="1017.9" cy="245.7" r="4.25" fill="#ef4623"/>
<circle cx="1022.6" cy="248.2" r="4.25" fill="#ef4623"/>
<circle cx="1027.3" cy="250.1" r="4.25" fill="#ef4623"/>
<circle cx="1032.5" cy="252.6" r="4.25" fill="#ef4623"/>
<circle cx="1035.8" cy="256.2" r="4.25" fill="#ef4623"/>
<circle cx="1039.7" cy="271.9" r="4.25" fill="#ef4623"/>
<circle cx="1043.4" cy="299.9" r="4.25" fill="#ef4623"/>
</g>
<path d="M980.6 43.3H1022.5" stroke="#000000" stroke-width="1.6"/>
<rect x="997.7" y="39.2" width="8.2" height="8.2" fill="#000000"/>
<text x="1027.6" y="49.6" font-size="15.5">0.001 s<tspan font-size="9.6" dy="-6.5">−1</tspan></text>
<path d="M980.6 66.3H1022.5" stroke="#ef4623" stroke-width="1.6"/>
<circle cx="1001.8" cy="66.3" r="4.25" fill="#ef4623"/>
<text x="1027.6" y="72.6" font-size="15.5">0.003 s<tspan font-size="9.6" dy="-6.5">−1</tspan></text>
<path d="M980.6 89.2H1022.5" stroke="#0d4da1" stroke-width="1.6"/>
<path d="M1001.8 83.2L1007.4 92.8H996.2Z" fill="#0d4da1"/>
<text x="1027.6" y="95.5" font-size="15.5">0.01 s<tspan font-size="9.6" dy="-6.5">−1</tspan></text>
<path d="M980.6 112.5H1022.5" stroke="#9b68b7" stroke-width="1.6"/>
<path d="M1001.8 118.5L1007.4 108.9H996.2Z" fill="#9b68b7"/>
<text x="1027.6" y="118.8" font-size="15.5">0.03 s<tspan font-size="9.6" dy="-6.5">−1</tspan></text>
</g>
<g font-family="'Liberation Serif', 'Noto Serif CJK SC', serif" fill="#1c1c1c">
<text x="306" y="430.2" font-size="23.4" font-weight="bold">图</text>
<text x="332.8" y="429.7" font-size="24.4" font-weight="bold">4</text>
<text x="350.8 374.8 398.8 422.8 446.8 470.8 494.8 518.8" y="430.2" font-size="23.4">在不同变形条件下</text>
<text x="546.6" y="430.2" font-size="23.4" textLength="42.8" lengthAdjust="spacingAndGlyphs">Ti65</text>
<text x="592.8 616.8 640.8 664.8 688.8 712.8 736.8 760.8 784.8" y="430.2" font-size="23.4">钛合金超塑拉伸应力</text>
<text x="809.3" y="430.2" font-size="23.4">-</text>
<text x="816.8 840.8 864.8 888.8" y="430.2" font-size="23.4">应变曲线</text>
</g>
</svg>
<div class="cap" id="l2" style="left:5.6px;top:442.1px;word-spacing:2.25px;"><b>Fig.4</b> True stress-true strain curves of Ti65 alloy under different temperatures at stain rate of 0.003 s<sup>−1</sup> (a) and under different</div>
<div class="cap" id="l3" style="left:62.8px;top:474.0px;word-spacing:1.2px;">strain rates at temperature of 940 <span style="font-size:0.52em;position:relative;top:-0.70em;line-height:0">o</span>C&nbsp; (b)</div>
</body></html>
